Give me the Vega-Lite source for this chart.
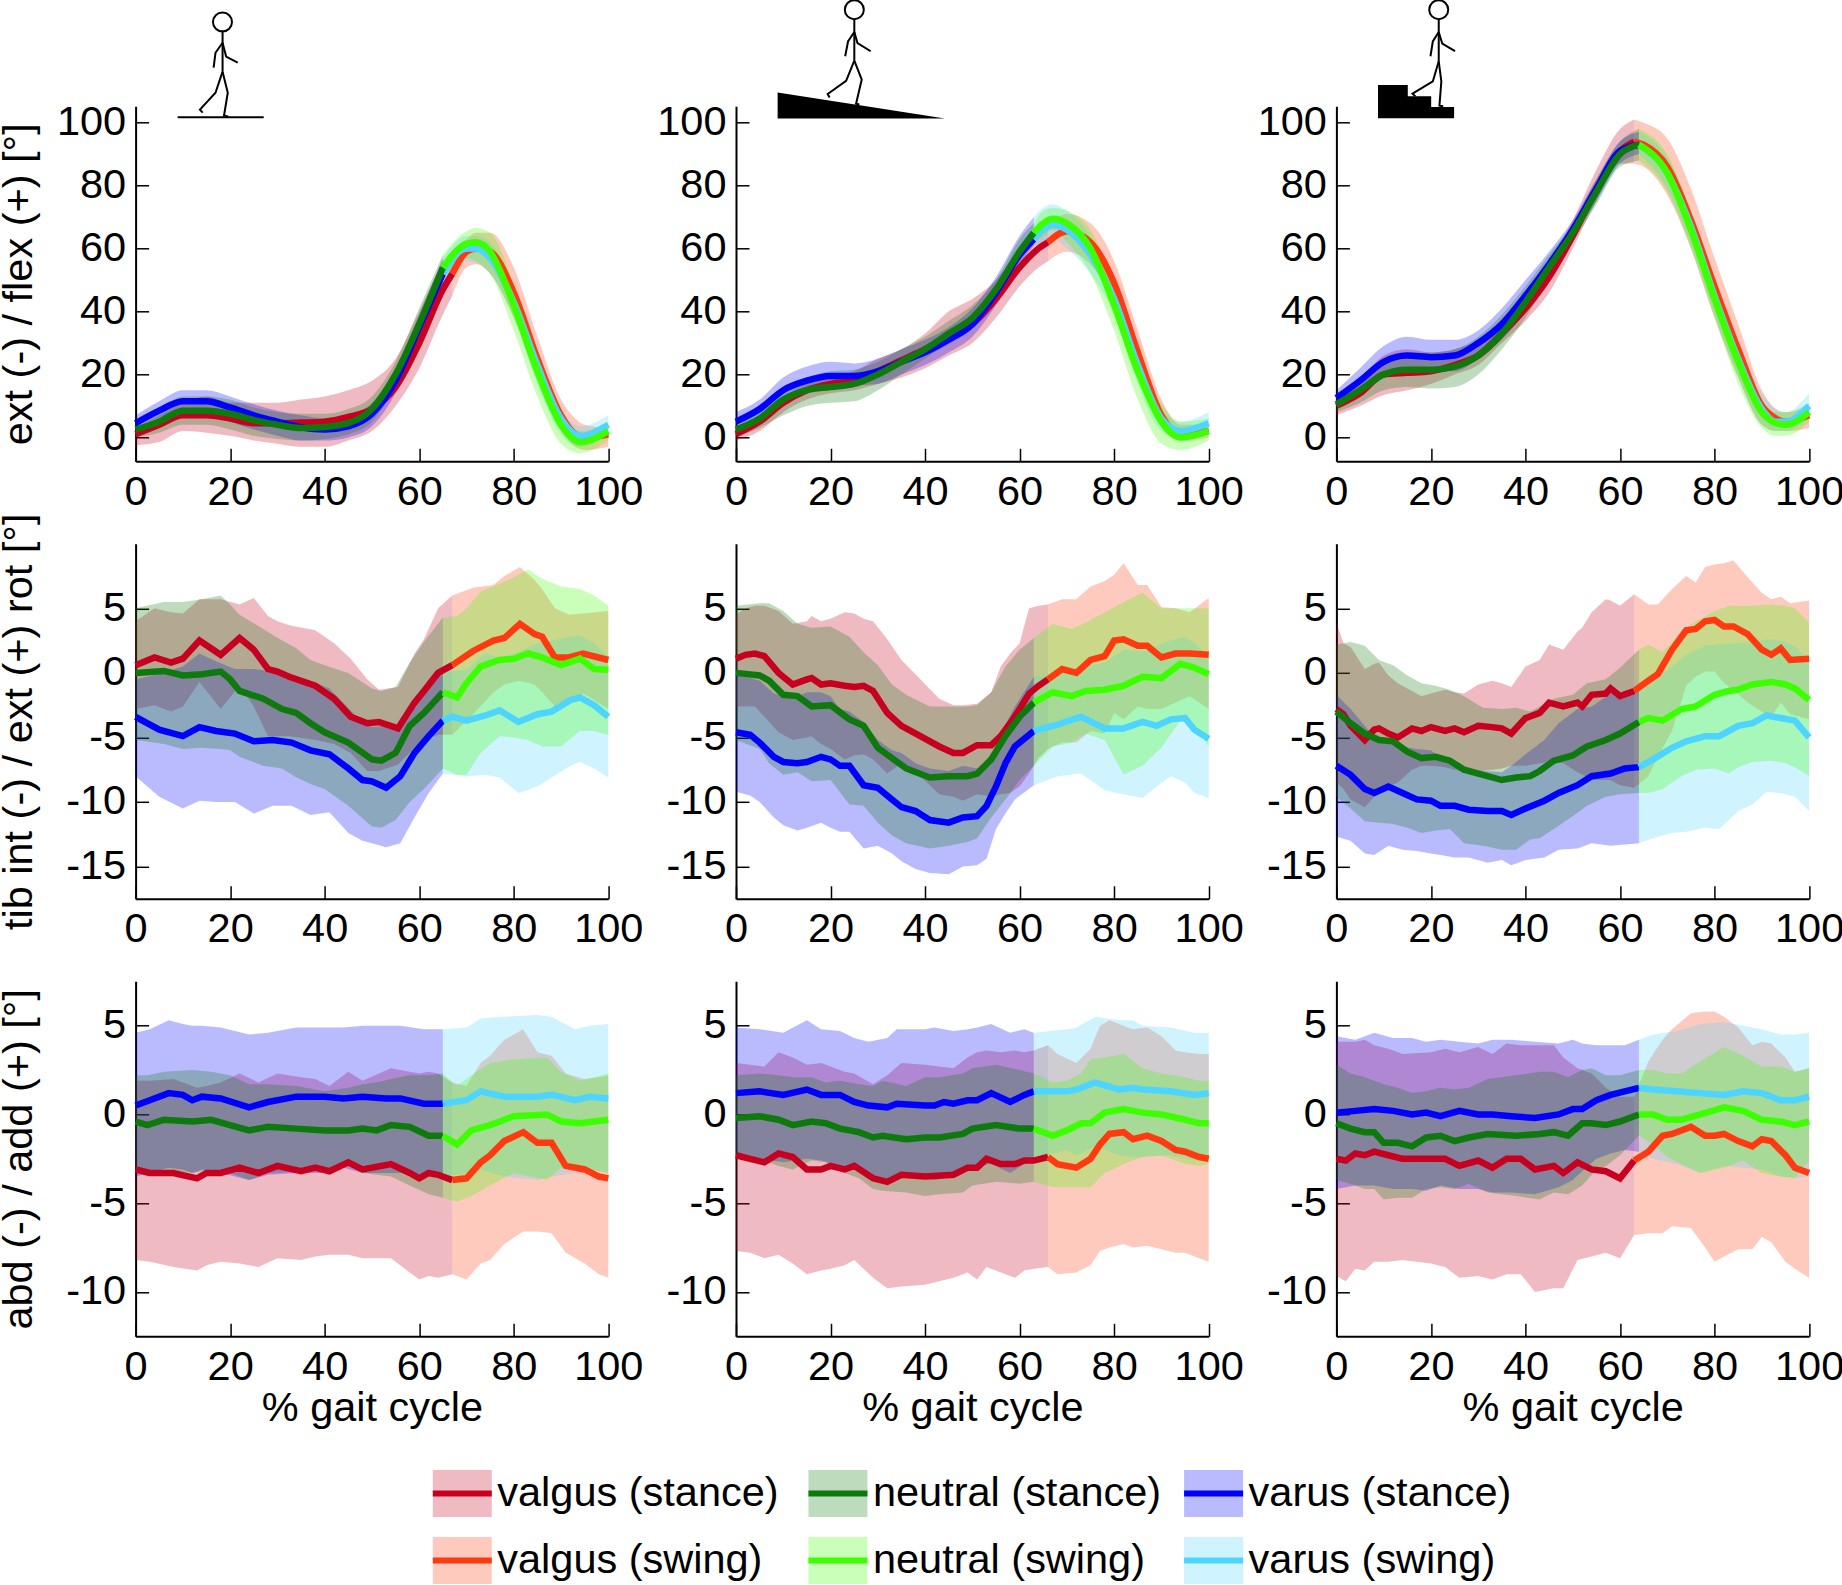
{"$schema":"https://vega.github.io/schema/vega-lite/v6.json","background":"white","padding":{"left":-2.4,"top":-4.7,"right":0,"bottom":0},"columns":3,"bounds":"flush","spacing":{"row":82.5,"column":127.4},"config":{"font":"Liberation Sans","view":{"stroke":null},"axis":{"grid":false,"labelFont":"Liberation Sans","titleFont":"Liberation Sans","labelFontSize":41.5,"titleFontSize":41.5,"titleFontWeight":"normal","labelColor":"#000","titleColor":"#000","domainColor":"#000","domainWidth":2,"tickColor":"#000","tickWidth":1.5,"tickSize":-13,"labelPadding":23,"labelOverlap":false,"labelFlush":false,"labelBound":false}},"datasets":{"curves":[
{"p":1,"s":"VgS","x":0,"y":1,"lo":-2.5,"hi":3},{"p":1,"s":"VgS","x":5,"y":4,"lo":-1.5,"hi":7},{"p":1,"s":"VgS","x":10,"y":7,"lo":2,"hi":11},{"p":1,"s":"VgS","x":15,"y":7,"lo":1.5,"hi":13},{"p":1,"s":"VgS","x":20,"y":6,"lo":0.5,"hi":11},{"p":1,"s":"VgS","x":25,"y":4.5,"lo":-1,"hi":11},{"p":1,"s":"VgS","x":30,"y":4.5,"lo":-2,"hi":11},{"p":1,"s":"VgS","x":35,"y":4.7,"lo":-3,"hi":12},{"p":1,"s":"VgS","x":40,"y":5,"lo":-3,"hi":13},{"p":1,"s":"VgS","x":45,"y":6.5,"lo":-1,"hi":15},{"p":1,"s":"VgS","x":50,"y":9,"lo":2,"hi":18},{"p":1,"s":"VgS","x":55,"y":16,"lo":10,"hi":25},{"p":1,"s":"VgS","x":60,"y":30,"lo":22,"hi":40},{"p":1,"s":"VgS","x":65,"y":47,"lo":39,"hi":55},{"p":1,"s":"VgS","x":67,"y":52,"lo":45,"hi":58},
{"p":1,"s":"VgW","x":67,"y":52,"lo":45,"hi":58},{"p":1,"s":"VgW","x":70,"y":59,"lo":54,"hi":63},{"p":1,"s":"VgW","x":72,"y":60,"lo":55,"hi":65},{"p":1,"s":"VgW","x":75,"y":59,"lo":52,"hi":65},{"p":1,"s":"VgW","x":80,"y":46,"lo":38,"hi":54},{"p":1,"s":"VgW","x":85,"y":25,"lo":18,"hi":32},{"p":1,"s":"VgW","x":90,"y":7,"lo":2,"hi":12},{"p":1,"s":"VgW","x":93,"y":1,"lo":-3,"hi":6},{"p":1,"s":"VgW","x":95,"y":0,"lo":-4,"hi":4},{"p":1,"s":"VgW","x":100,"y":1,"lo":-3,"hi":3},
{"p":1,"s":"VrS","x":0,"y":4.5,"lo":2,"hi":7},{"p":1,"s":"VrS","x":5,"y":8.5,"lo":5,"hi":11.5},{"p":1,"s":"VrS","x":10,"y":11.5,"lo":8,"hi":15},{"p":1,"s":"VrS","x":15,"y":11.5,"lo":8,"hi":15},{"p":1,"s":"VrS","x":20,"y":9.5,"lo":5,"hi":13},{"p":1,"s":"VrS","x":25,"y":7,"lo":2.5,"hi":10.5},{"p":1,"s":"VrS","x":30,"y":5,"lo":0.5,"hi":8.5},{"p":1,"s":"VrS","x":35,"y":3.2,"lo":-1,"hi":7},{"p":1,"s":"VrS","x":40,"y":2.5,"lo":-1,"hi":6},{"p":1,"s":"VrS","x":45,"y":3.5,"lo":0,"hi":7},{"p":1,"s":"VrS","x":50,"y":7.5,"lo":3.5,"hi":11},{"p":1,"s":"VrS","x":55,"y":18,"lo":14,"hi":22},{"p":1,"s":"VrS","x":60,"y":35,"lo":31,"hi":39},{"p":1,"s":"VrS","x":65,"y":52,"lo":48,"hi":57},
{"p":1,"s":"VrW","x":65,"y":52,"lo":48,"hi":57},{"p":1,"s":"VrW","x":70,"y":60,"lo":56,"hi":64},{"p":1,"s":"VrW","x":72,"y":60,"lo":55.5,"hi":64},{"p":1,"s":"VrW","x":75,"y":57,"lo":52,"hi":62},{"p":1,"s":"VrW","x":80,"y":43,"lo":38,"hi":47},{"p":1,"s":"VrW","x":85,"y":23,"lo":17,"hi":27},{"p":1,"s":"VrW","x":90,"y":6,"lo":1,"hi":9},{"p":1,"s":"VrW","x":94,"y":0.5,"lo":-3,"hi":3.5},{"p":1,"s":"VrW","x":100,"y":4,"lo":1.5,"hi":7},
{"p":1,"s":"NtS","x":0,"y":2.5,"lo":0,"hi":5.5},{"p":1,"s":"NtS","x":5,"y":5,"lo":1.5,"hi":9},{"p":1,"s":"NtS","x":10,"y":8.5,"lo":4,"hi":13},{"p":1,"s":"NtS","x":15,"y":8.5,"lo":4,"hi":13},{"p":1,"s":"NtS","x":20,"y":7.5,"lo":2.5,"hi":12},{"p":1,"s":"NtS","x":25,"y":5.5,"lo":0.5,"hi":9.5},{"p":1,"s":"NtS","x":30,"y":4,"lo":-0.5,"hi":8},{"p":1,"s":"NtS","x":35,"y":3,"lo":-1,"hi":7.5},{"p":1,"s":"NtS","x":40,"y":3.3,"lo":-0.5,"hi":7.5},{"p":1,"s":"NtS","x":45,"y":4.5,"lo":1,"hi":9},{"p":1,"s":"NtS","x":50,"y":9,"lo":5,"hi":13},{"p":1,"s":"NtS","x":55,"y":20,"lo":16,"hi":24},{"p":1,"s":"NtS","x":60,"y":36,"lo":32,"hi":41},{"p":1,"s":"NtS","x":65,"y":54,"lo":50,"hi":58},
{"p":1,"s":"NtW","x":65,"y":54,"lo":50,"hi":58},{"p":1,"s":"NtW","x":70,"y":61.5,"lo":57,"hi":65.5},{"p":1,"s":"NtW","x":72,"y":62,"lo":56,"hi":66.5},{"p":1,"s":"NtW","x":75,"y":59,"lo":52,"hi":65},{"p":1,"s":"NtW","x":80,"y":42,"lo":34,"hi":49},{"p":1,"s":"NtW","x":85,"y":21,"lo":13,"hi":27},{"p":1,"s":"NtW","x":90,"y":4,"lo":-2,"hi":9},{"p":1,"s":"NtW","x":94,"y":-1.5,"lo":-5,"hi":2},{"p":1,"s":"NtW","x":100,"y":2,"lo":-1,"hi":5},
{"p":2,"s":"VgS","x":0,"y":1,"lo":-1,"hi":3},{"p":2,"s":"VgS","x":5,"y":5,"lo":2,"hi":7},{"p":2,"s":"VgS","x":10,"y":11,"lo":8,"hi":13},{"p":2,"s":"VgS","x":15,"y":15,"lo":12,"hi":17},{"p":2,"s":"VgS","x":20,"y":17,"lo":14,"hi":19},{"p":2,"s":"VgS","x":25,"y":18,"lo":15,"hi":21},{"p":2,"s":"VgS","x":30,"y":21,"lo":17,"hi":25},{"p":2,"s":"VgS","x":35,"y":24.5,"lo":19,"hi":28},{"p":2,"s":"VgS","x":40,"y":28,"lo":22,"hi":33},{"p":2,"s":"VgS","x":45,"y":32,"lo":26,"hi":40},{"p":2,"s":"VgS","x":50,"y":36,"lo":30,"hi":44},{"p":2,"s":"VgS","x":55,"y":44,"lo":38,"hi":50},{"p":2,"s":"VgS","x":60,"y":54,"lo":48,"hi":60},{"p":2,"s":"VgS","x":64,"y":60,"lo":54,"hi":66},{"p":2,"s":"VgS","x":66,"y":62,"lo":56,"hi":67},
{"p":2,"s":"VgW","x":66,"y":62,"lo":56,"hi":67},{"p":2,"s":"VgW","x":70,"y":65.5,"lo":59,"hi":71},{"p":2,"s":"VgW","x":75,"y":62,"lo":55,"hi":68},{"p":2,"s":"VgW","x":80,"y":49,"lo":42,"hi":56},{"p":2,"s":"VgW","x":85,"y":27,"lo":20,"hi":34},{"p":2,"s":"VgW","x":90,"y":7,"lo":3,"hi":12},{"p":2,"s":"VgW","x":94,"y":1,"lo":-1,"hi":4},{"p":2,"s":"VgW","x":100,"y":2,"lo":0,"hi":4},
{"p":2,"s":"VrS","x":0,"y":5,"lo":2.5,"hi":8},{"p":2,"s":"VrS","x":5,"y":9,"lo":6,"hi":12},{"p":2,"s":"VrS","x":10,"y":15,"lo":11,"hi":19},{"p":2,"s":"VrS","x":15,"y":18,"lo":15,"hi":22.5},{"p":2,"s":"VrS","x":20,"y":19.5,"lo":16,"hi":24},{"p":2,"s":"VrS","x":25,"y":19.5,"lo":16.5,"hi":23.5},{"p":2,"s":"VrS","x":30,"y":21,"lo":17,"hi":25},{"p":2,"s":"VrS","x":35,"y":24,"lo":20,"hi":28},{"p":2,"s":"VrS","x":40,"y":27,"lo":23,"hi":31},{"p":2,"s":"VrS","x":45,"y":31,"lo":27,"hi":35},{"p":2,"s":"VrS","x":50,"y":36,"lo":32,"hi":41},{"p":2,"s":"VrS","x":55,"y":46,"lo":42,"hi":51},{"p":2,"s":"VrS","x":60,"y":58,"lo":55,"hi":64},{"p":2,"s":"VrS","x":63,"y":63,"lo":61,"hi":70},
{"p":2,"s":"VrW","x":63,"y":63,"lo":61,"hi":70},{"p":2,"s":"VrW","x":65,"y":66,"lo":62,"hi":73},{"p":2,"s":"VrW","x":67,"y":67.5,"lo":63,"hi":74},{"p":2,"s":"VrW","x":70,"y":66,"lo":60,"hi":72},{"p":2,"s":"VrW","x":75,"y":58,"lo":52,"hi":64},{"p":2,"s":"VrW","x":80,"y":44,"lo":39,"hi":49},{"p":2,"s":"VrW","x":85,"y":23,"lo":17,"hi":28},{"p":2,"s":"VrW","x":90,"y":6,"lo":2,"hi":9},{"p":2,"s":"VrW","x":94,"y":2,"lo":0,"hi":5},{"p":2,"s":"VrW","x":100,"y":4.5,"lo":2,"hi":8},
{"p":2,"s":"NtS","x":0,"y":2.5,"lo":0,"hi":5},{"p":2,"s":"NtS","x":5,"y":6,"lo":3,"hi":9},{"p":2,"s":"NtS","x":10,"y":12,"lo":7,"hi":16},{"p":2,"s":"NtS","x":15,"y":15,"lo":10,"hi":19},{"p":2,"s":"NtS","x":20,"y":16,"lo":11,"hi":21},{"p":2,"s":"NtS","x":25,"y":17,"lo":11.5,"hi":21.5},{"p":2,"s":"NtS","x":30,"y":20,"lo":15,"hi":24},{"p":2,"s":"NtS","x":35,"y":24,"lo":20,"hi":28},{"p":2,"s":"NtS","x":40,"y":28,"lo":25,"hi":32},{"p":2,"s":"NtS","x":45,"y":33,"lo":30,"hi":37},{"p":2,"s":"NtS","x":50,"y":38,"lo":35,"hi":42},{"p":2,"s":"NtS","x":55,"y":47,"lo":44,"hi":50},{"p":2,"s":"NtS","x":60,"y":59,"lo":56,"hi":63},{"p":2,"s":"NtS","x":63,"y":65,"lo":62,"hi":68},
{"p":2,"s":"NtW","x":63,"y":65,"lo":62,"hi":68},{"p":2,"s":"NtW","x":65,"y":68,"lo":64,"hi":72},{"p":2,"s":"NtW","x":67,"y":69.5,"lo":66,"hi":73},{"p":2,"s":"NtW","x":70,"y":68,"lo":62,"hi":72},{"p":2,"s":"NtW","x":75,"y":60,"lo":52,"hi":66},{"p":2,"s":"NtW","x":80,"y":42,"lo":34,"hi":49},{"p":2,"s":"NtW","x":85,"y":21,"lo":12,"hi":29},{"p":2,"s":"NtW","x":90,"y":5,"lo":-2,"hi":11},{"p":2,"s":"NtW","x":94,"y":0,"lo":-4,"hi":5},{"p":2,"s":"NtW","x":100,"y":2,"lo":-1,"hi":6},
{"p":3,"s":"VgS","x":0,"y":10,"lo":7,"hi":13},{"p":3,"s":"VgS","x":5,"y":14,"lo":10,"hi":18},{"p":3,"s":"VgS","x":10,"y":20,"lo":13.5,"hi":26},{"p":3,"s":"VgS","x":15,"y":20.5,"lo":15,"hi":28},{"p":3,"s":"VgS","x":20,"y":21,"lo":17,"hi":27},{"p":3,"s":"VgS","x":25,"y":23,"lo":20,"hi":28},{"p":3,"s":"VgS","x":30,"y":26,"lo":23,"hi":31},{"p":3,"s":"VgS","x":35,"y":33,"lo":30,"hi":37},{"p":3,"s":"VgS","x":40,"y":41,"lo":37,"hi":46},{"p":3,"s":"VgS","x":45,"y":51,"lo":46,"hi":56},{"p":3,"s":"VgS","x":50,"y":64,"lo":60,"hi":69},{"p":3,"s":"VgS","x":55,"y":79,"lo":75,"hi":85},{"p":3,"s":"VgS","x":60,"y":91,"lo":87,"hi":98},{"p":3,"s":"VgS","x":63,"y":94,"lo":87,"hi":101},
{"p":3,"s":"VgW","x":63,"y":94,"lo":87,"hi":101},{"p":3,"s":"VgW","x":65,"y":93,"lo":86,"hi":100},{"p":3,"s":"VgW","x":70,"y":86,"lo":77,"hi":95},{"p":3,"s":"VgW","x":75,"y":69,"lo":60,"hi":79},{"p":3,"s":"VgW","x":80,"y":48,"lo":38,"hi":57},{"p":3,"s":"VgW","x":85,"y":28,"lo":19,"hi":36},{"p":3,"s":"VgW","x":90,"y":10,"lo":4,"hi":15},{"p":3,"s":"VgW","x":93,"y":6,"lo":2,"hi":9},{"p":3,"s":"VgW","x":95,"y":5,"lo":2,"hi":8},{"p":3,"s":"VgW","x":100,"y":7,"lo":3,"hi":10},
{"p":3,"s":"VrS","x":0,"y":12.5,"lo":10,"hi":15},{"p":3,"s":"VrS","x":5,"y":18,"lo":14,"hi":22},{"p":3,"s":"VrS","x":10,"y":24,"lo":19,"hi":29},{"p":3,"s":"VrS","x":15,"y":26,"lo":21,"hi":32},{"p":3,"s":"VrS","x":20,"y":25.5,"lo":21,"hi":31},{"p":3,"s":"VrS","x":25,"y":26,"lo":21,"hi":31},{"p":3,"s":"VrS","x":30,"y":30,"lo":25,"hi":34},{"p":3,"s":"VrS","x":35,"y":36,"lo":31,"hi":41},{"p":3,"s":"VrS","x":40,"y":45,"lo":40,"hi":50},{"p":3,"s":"VrS","x":45,"y":55,"lo":51,"hi":59},{"p":3,"s":"VrS","x":50,"y":66,"lo":63,"hi":69},{"p":3,"s":"VrS","x":55,"y":79,"lo":75,"hi":82},{"p":3,"s":"VrS","x":60,"y":91,"lo":87,"hi":94},{"p":3,"s":"VrS","x":64,"y":93,"lo":90,"hi":97},
{"p":3,"s":"VrW","x":64,"y":93,"lo":90,"hi":97},{"p":3,"s":"VrW","x":70,"y":84,"lo":79,"hi":89},{"p":3,"s":"VrW","x":75,"y":67,"lo":61,"hi":72},{"p":3,"s":"VrW","x":80,"y":45,"lo":39,"hi":50},{"p":3,"s":"VrW","x":85,"y":25,"lo":19,"hi":30},{"p":3,"s":"VrW","x":90,"y":9,"lo":4,"hi":14},{"p":3,"s":"VrW","x":93,"y":5,"lo":2,"hi":9},{"p":3,"s":"VrW","x":95,"y":5,"lo":2,"hi":8},{"p":3,"s":"VrW","x":100,"y":10,"lo":6,"hi":14},
{"p":3,"s":"NtS","x":0,"y":10.5,"lo":8,"hi":13},{"p":3,"s":"NtS","x":5,"y":15,"lo":11,"hi":18},{"p":3,"s":"NtS","x":10,"y":20,"lo":15,"hi":25},{"p":3,"s":"NtS","x":15,"y":21.5,"lo":16,"hi":27},{"p":3,"s":"NtS","x":20,"y":21.5,"lo":15.5,"hi":27},{"p":3,"s":"NtS","x":25,"y":22.5,"lo":16,"hi":28},{"p":3,"s":"NtS","x":30,"y":26,"lo":20,"hi":32},{"p":3,"s":"NtS","x":35,"y":33,"lo":28,"hi":39},{"p":3,"s":"NtS","x":40,"y":43,"lo":38,"hi":48},{"p":3,"s":"NtS","x":45,"y":54,"lo":50,"hi":58},{"p":3,"s":"NtS","x":50,"y":65,"lo":62,"hi":68},{"p":3,"s":"NtS","x":55,"y":78,"lo":74,"hi":82},{"p":3,"s":"NtS","x":60,"y":90,"lo":86,"hi":94},{"p":3,"s":"NtS","x":64,"y":93,"lo":88,"hi":98},
{"p":3,"s":"NtW","x":64,"y":93,"lo":88,"hi":98},{"p":3,"s":"NtW","x":70,"y":84,"lo":78,"hi":90},{"p":3,"s":"NtW","x":75,"y":66,"lo":60,"hi":72},{"p":3,"s":"NtW","x":80,"y":44,"lo":38,"hi":50},{"p":3,"s":"NtW","x":85,"y":24,"lo":17,"hi":30},{"p":3,"s":"NtW","x":90,"y":8,"lo":3,"hi":12},{"p":3,"s":"NtW","x":93,"y":4.5,"lo":0.5,"hi":8},{"p":3,"s":"NtW","x":95,"y":4,"lo":0.5,"hi":8},{"p":3,"s":"NtW","x":100,"y":8,"lo":5,"hi":11},
{"p":4,"s":"VgS","x":0,"y":0.6,"lo":-2.8,"hi":4},{"p":4,"s":"VgS","x":4,"y":1.2,"lo":-2.5,"hi":5},{"p":4,"s":"VgS","x":7.5,"y":0.8,"lo":-3,"hi":4.7},{"p":4,"s":"VgS","x":10,"y":1.1,"lo":-2.6,"hi":4.6},{"p":4,"s":"VgS","x":13.5,"y":2.5,"lo":-0.7,"hi":5.7},{"p":4,"s":"VgS","x":18,"y":1.4,"lo":-2.8,"hi":5.7},{"p":4,"s":"VgS","x":22,"y":2.7,"lo":-1,"hi":5.3},{"p":4,"s":"VgS","x":25,"y":1.8,"lo":-2.6,"hi":5.8},{"p":4,"s":"VgS","x":28,"y":0.3,"lo":-4.9,"hi":4.4},{"p":4,"s":"VgS","x":30,"y":0.1,"lo":-4.9,"hi":4},{"p":4,"s":"VgS","x":32.5,"y":-0.3,"lo":-4.9,"hi":3.7},{"p":4,"s":"VgS","x":38,"y":-1,"lo":-5.2,"hi":3.3},{"p":4,"s":"VgS","x":42,"y":-2,"lo":-5.5,"hi":2.3},{"p":4,"s":"VgS","x":45.5,"y":-3.4,"lo":-6.2,"hi":1.1},{"p":4,"s":"VgS","x":49,"y":-3.9,"lo":-7.6,"hi":-0.5},{"p":4,"s":"VgS","x":51.5,"y":-3.8,"lo":-7.6,"hi":-1.3},{"p":4,"s":"VgS","x":55.5,"y":-4.3,"lo":-7.1,"hi":-1.1},{"p":4,"s":"VgS","x":59,"y":-2.3,"lo":-5.8,"hi":1.5},{"p":4,"s":"VgS","x":61,"y":-1.4,"lo":-5.2,"hi":2.6},{"p":4,"s":"VgS","x":64,"y":0,"lo":-4.8,"hi":5},{"p":4,"s":"VgS","x":67,"y":0.6,"lo":-4.8,"hi":6},
{"p":4,"s":"VgW","x":67,"y":0.6,"lo":-4.8,"hi":6},{"p":4,"s":"VgW","x":71.4,"y":1.7,"lo":-3.2,"hi":6.6},{"p":4,"s":"VgW","x":75.7,"y":2.5,"lo":-1.5,"hi":6.8},{"p":4,"s":"VgW","x":78,"y":2.7,"lo":-0.9,"hi":7.5},{"p":4,"s":"VgW","x":81.3,"y":3.8,"lo":-0.6,"hi":8.2},{"p":4,"s":"VgW","x":84.4,"y":3,"lo":-0.9,"hi":7.2},{"p":4,"s":"VgW","x":86,"y":2.8,"lo":-1.5,"hi":6.5},{"p":4,"s":"VgW","x":88.7,"y":1.2,"lo":-2.6,"hi":5},{"p":4,"s":"VgW","x":91.7,"y":1.2,"lo":-2.5,"hi":4.5},{"p":4,"s":"VgW","x":94.7,"y":1.5,"lo":-1.6,"hi":4.6},{"p":4,"s":"VgW","x":100,"y":1,"lo":-2.8,"hi":4.8},
{"p":4,"s":"VrS","x":0,"y":-3.4,"lo":-8,"hi":-0.5},{"p":4,"s":"VrS","x":5,"y":-4.4,"lo":-9.6,"hi":-0.1},{"p":4,"s":"VrS","x":10,"y":-4.9,"lo":-10.5,"hi":0.5},{"p":4,"s":"VrS","x":13.5,"y":-4.2,"lo":-9.9,"hi":1.5},{"p":4,"s":"VrS","x":17,"y":-4.5,"lo":-10,"hi":0.9},{"p":4,"s":"VrS","x":21,"y":-4.7,"lo":-10,"hi":0.3},{"p":4,"s":"VrS","x":25,"y":-5.3,"lo":-10.9,"hi":0.3},{"p":4,"s":"VrS","x":29,"y":-5.2,"lo":-10.3,"hi":0.1},{"p":4,"s":"VrS","x":33,"y":-5.4,"lo":-10.3,"hi":-0.2},{"p":4,"s":"VrS","x":37,"y":-6,"lo":-11,"hi":-0.6},{"p":4,"s":"VrS","x":41,"y":-6.3,"lo":-10.8,"hi":-1.2},{"p":4,"s":"VrS","x":45,"y":-7.4,"lo":-12.4,"hi":-2.7},{"p":4,"s":"VrS","x":48,"y":-8.3,"lo":-13,"hi":-3.9},{"p":4,"s":"VrS","x":50,"y":-8.4,"lo":-13.2,"hi":-4.2},{"p":4,"s":"VrS","x":53,"y":-8.9,"lo":-13.5,"hi":-4.1},{"p":4,"s":"VrS","x":56,"y":-8,"lo":-13.2,"hi":-4.3},{"p":4,"s":"VrS","x":59,"y":-6.2,"lo":-11.2,"hi":-2.3},{"p":4,"s":"VrS","x":62,"y":-4.9,"lo":-9.3,"hi":-0.8},{"p":4,"s":"VrS","x":65,"y":-3.7,"lo":-7.8,"hi":0.3},
{"p":4,"s":"VrW","x":65,"y":-3.7,"lo":-7.8,"hi":0.3},{"p":4,"s":"VrW","x":67,"y":-3.4,"lo":-7.9,"hi":0.2},{"p":4,"s":"VrW","x":70,"y":-3.7,"lo":-8,"hi":0.2},{"p":4,"s":"VrW","x":74,"y":-3.3,"lo":-7.9,"hi":1.5},{"p":4,"s":"VrW","x":77,"y":-2.9,"lo":-8.1,"hi":1.2},{"p":4,"s":"VrW","x":81,"y":-3.8,"lo":-9.3,"hi":1.6},{"p":4,"s":"VrW","x":85,"y":-3.2,"lo":-8.8,"hi":2.3},{"p":4,"s":"VrW","x":88,"y":-3,"lo":-8.1,"hi":2.5},{"p":4,"s":"VrW","x":92,"y":-2.1,"lo":-7.2,"hi":2.8},{"p":4,"s":"VrW","x":94,"y":-1.9,"lo":-6.9,"hi":2.9},{"p":4,"s":"VrW","x":97,"y":-2.5,"lo":-7.4,"hi":2.3},{"p":4,"s":"VrW","x":100,"y":-3.4,"lo":-8.1,"hi":1.3},
{"p":4,"s":"NtS","x":0,"y":0,"lo":-5.2,"hi":5},{"p":4,"s":"NtS","x":6,"y":0.15,"lo":-5.5,"hi":5.5},{"p":4,"s":"NtS","x":10,"y":-0.2,"lo":-5.9,"hi":5.5},{"p":4,"s":"NtS","x":14,"y":-0.1,"lo":-5.8,"hi":5.7},{"p":4,"s":"NtS","x":18,"y":0.1,"lo":-5.9,"hi":6},{"p":4,"s":"NtS","x":20,"y":-0.5,"lo":-6,"hi":5.3},{"p":4,"s":"NtS","x":22,"y":-1.4,"lo":-6.5,"hi":4.5},{"p":4,"s":"NtS","x":27,"y":-2,"lo":-7.2,"hi":3.4},{"p":4,"s":"NtS","x":31,"y":-2.8,"lo":-7.4,"hi":2.5},{"p":4,"s":"NtS","x":34,"y":-3.1,"lo":-8.1,"hi":1.9},{"p":4,"s":"NtS","x":37,"y":-3.9,"lo":-8.6,"hi":1},{"p":4,"s":"NtS","x":40,"y":-4.6,"lo":-9,"hi":0.6},{"p":4,"s":"NtS","x":45,"y":-5.4,"lo":-10.3,"hi":0},{"p":4,"s":"NtS","x":50,"y":-6.7,"lo":-11.9,"hi":-1.2},{"p":4,"s":"NtS","x":52,"y":-6.8,"lo":-12,"hi":-1.4},{"p":4,"s":"NtS","x":55,"y":-6.2,"lo":-11.4,"hi":-1.1},{"p":4,"s":"NtS","x":58,"y":-4.1,"lo":-10,"hi":0.8},{"p":4,"s":"NtS","x":61,"y":-3.1,"lo":-9,"hi":2.4},{"p":4,"s":"NtS","x":65,"y":-1.5,"lo":-7.4,"hi":4.3},
{"p":4,"s":"NtW","x":65,"y":-1.5,"lo":-7.4,"hi":4.3},{"p":4,"s":"NtW","x":68,"y":-1.9,"lo":-7.9,"hi":4.4},{"p":4,"s":"NtW","x":70,"y":-0.8,"lo":-7.9,"hi":5},{"p":4,"s":"NtW","x":73,"y":0.5,"lo":-6.2,"hi":6.3},{"p":4,"s":"NtW","x":77,"y":1,"lo":-4.9,"hi":6.9},{"p":4,"s":"NtW","x":80,"y":1.1,"lo":-5,"hi":7.4},{"p":4,"s":"NtW","x":83,"y":1.5,"lo":-5.2,"hi":8},{"p":4,"s":"NtW","x":86,"y":1.2,"lo":-5.7,"hi":7.3},{"p":4,"s":"NtW","x":90,"y":0.6,"lo":-5.7,"hi":6.7},{"p":4,"s":"NtW","x":94,"y":1.1,"lo":-4.5,"hi":6.5},{"p":4,"s":"NtW","x":97,"y":0.3,"lo":-4.5,"hi":6},{"p":4,"s":"NtW","x":100,"y":0.25,"lo":-4.8,"hi":5.2},
{"p":5,"s":"VgS","x":0,"y":1.1,"lo":-2.6,"hi":4.5},{"p":5,"s":"VgS","x":2,"y":1.4,"lo":-2.6,"hi":5},{"p":5,"s":"VgS","x":4,"y":1.5,"lo":-2.6,"hi":5.2},{"p":5,"s":"VgS","x":6,"y":1.3,"lo":-3.4,"hi":5.2},{"p":5,"s":"VgS","x":9,"y":0,"lo":-4.6,"hi":4.8},{"p":5,"s":"VgS","x":12,"y":-0.9,"lo":-5.2,"hi":3.8},{"p":5,"s":"VgS","x":15,"y":-0.5,"lo":-5,"hi":4},{"p":5,"s":"VgS","x":16,"y":-0.4,"lo":-4.9,"hi":4.4},{"p":5,"s":"VgS","x":18,"y":-0.9,"lo":-5.5,"hi":4},{"p":5,"s":"VgS","x":20,"y":-0.8,"lo":-5.9,"hi":4.2},{"p":5,"s":"VgS","x":23,"y":-1,"lo":-6.7,"hi":4.7},{"p":5,"s":"VgS","x":25,"y":-1.1,"lo":-6.4,"hi":4.6},{"p":5,"s":"VgS","x":27,"y":-1,"lo":-6.3,"hi":4.2},{"p":5,"s":"VgS","x":29,"y":-1.4,"lo":-6.7,"hi":4},{"p":5,"s":"VgS","x":32,"y":-3.1,"lo":-7.8,"hi":2.6},{"p":5,"s":"VgS","x":35,"y":-4.1,"lo":-7,"hi":1},{"p":5,"s":"VgS","x":39,"y":-4.9,"lo":-8,"hi":-0.5},{"p":5,"s":"VgS","x":43,"y":-5.7,"lo":-9.4,"hi":-2},{"p":5,"s":"VgS","x":46,"y":-6.2,"lo":-9.6,"hi":-2.5},{"p":5,"s":"VgS","x":48,"y":-6.2,"lo":-9.9,"hi":-2.5},{"p":5,"s":"VgS","x":51,"y":-5.6,"lo":-9.4,"hi":-2.4},{"p":5,"s":"VgS","x":54,"y":-5.6,"lo":-9.6,"hi":-1.5},{"p":5,"s":"VgS","x":56,"y":-4.9,"lo":-9.4,"hi":0.5},{"p":5,"s":"VgS","x":58,"y":-3.9,"lo":-9.3,"hi":1.5},{"p":5,"s":"VgS","x":60,"y":-2.8,"lo":-8.8,"hi":2.3},{"p":5,"s":"VgS","x":62,"y":-1.6,"lo":-7.8,"hi":5},{"p":5,"s":"VgS","x":64,"y":-1,"lo":-6.6,"hi":5.2},{"p":5,"s":"VgS","x":66,"y":-0.5,"lo":-5.9,"hi":5.3},
{"p":5,"s":"VgW","x":66,"y":-0.5,"lo":-5.9,"hi":5.3},{"p":5,"s":"VgW","x":69,"y":0.3,"lo":-5.4,"hi":5.7},{"p":5,"s":"VgW","x":72,"y":0,"lo":-5.4,"hi":5.7},{"p":5,"s":"VgW","x":75,"y":1,"lo":-4.5,"hi":6.7},{"p":5,"s":"VgW","x":78,"y":1.3,"lo":-4.7,"hi":7.1},{"p":5,"s":"VgW","x":80,"y":2.5,"lo":-3.1,"hi":7.6},{"p":5,"s":"VgW","x":82,"y":2.6,"lo":-3.6,"hi":8.5},{"p":5,"s":"VgW","x":85,"y":2.1,"lo":-2.6,"hi":6.8},{"p":5,"s":"VgW","x":87,"y":2.1,"lo":-2.8,"hi":6.8},{"p":5,"s":"VgW","x":90,"y":1.2,"lo":-2.8,"hi":5.1},{"p":5,"s":"VgW","x":93,"y":1.5,"lo":-2.3,"hi":5},{"p":5,"s":"VgW","x":96,"y":1.5,"lo":-1.8,"hi":4.7},{"p":5,"s":"VgW","x":100,"y":1.4,"lo":-2.8,"hi":5.8},
{"p":5,"s":"VrS","x":0,"y":-4.6,"lo":-9.2,"hi":-0.2},{"p":5,"s":"VrS","x":3,"y":-4.8,"lo":-9.5,"hi":-0.4},{"p":5,"s":"VrS","x":5,"y":-5.4,"lo":-10,"hi":-0.6},{"p":5,"s":"VrS","x":8,"y":-6.5,"lo":-11.2,"hi":-1.6},{"p":5,"s":"VrS","x":10,"y":-6.9,"lo":-11.8,"hi":-1.8},{"p":5,"s":"VrS","x":13,"y":-7,"lo":-12.2,"hi":-1.8},{"p":5,"s":"VrS","x":15,"y":-6.9,"lo":-12,"hi":-1.5},{"p":5,"s":"VrS","x":18,"y":-6.5,"lo":-11.6,"hi":-1.5},{"p":5,"s":"VrS","x":20,"y":-6.7,"lo":-12,"hi":-1.8},{"p":5,"s":"VrS","x":22,"y":-7.2,"lo":-12.3,"hi":-2.8},{"p":5,"s":"VrS","x":24,"y":-7.2,"lo":-12.3,"hi":-3},{"p":5,"s":"VrS","x":27,"y":-8.7,"lo":-13.6,"hi":-3.8},{"p":5,"s":"VrS","x":30,"y":-8.9,"lo":-13.4,"hi":-5.2},{"p":5,"s":"VrS","x":33,"y":-9.8,"lo":-14,"hi":-6},{"p":5,"s":"VrS","x":35,"y":-10.4,"lo":-14.6,"hi":-6.2},{"p":5,"s":"VrS","x":38,"y":-10.7,"lo":-15.2,"hi":-7},{"p":5,"s":"VrS","x":41,"y":-11.4,"lo":-15.5,"hi":-7.4},{"p":5,"s":"VrS","x":45,"y":-11.6,"lo":-15.6,"hi":-7.6},{"p":5,"s":"VrS","x":48,"y":-11.2,"lo":-15,"hi":-7.2},{"p":5,"s":"VrS","x":51,"y":-11.1,"lo":-14.9,"hi":-7.4},{"p":5,"s":"VrS","x":53,"y":-10.3,"lo":-14.4,"hi":-7.2},{"p":5,"s":"VrS","x":55,"y":-8.8,"lo":-12.1,"hi":-6},{"p":5,"s":"VrS","x":57,"y":-7,"lo":-10.9,"hi":-4},{"p":5,"s":"VrS","x":59,"y":-5.7,"lo":-9.8,"hi":-2.6},{"p":5,"s":"VrS","x":63,"y":-4.5,"lo":-8.7,"hi":-0.3},
{"p":5,"s":"VrW","x":63,"y":-4.5,"lo":-8.7,"hi":-0.3},{"p":5,"s":"VrW","x":68,"y":-4,"lo":-8,"hi":-0.2},{"p":5,"s":"VrW","x":73,"y":-3.4,"lo":-7.8,"hi":0.4},{"p":5,"s":"VrW","x":78,"y":-4.3,"lo":-9.1,"hi":0.8},{"p":5,"s":"VrW","x":82,"y":-4.3,"lo":-9.4,"hi":1.8},{"p":5,"s":"VrW","x":86,"y":-3.8,"lo":-9.7,"hi":1.7},{"p":5,"s":"VrW","x":89,"y":-4.1,"lo":-8.8,"hi":2.1},{"p":5,"s":"VrW","x":92,"y":-3.6,"lo":-8,"hi":2.5},{"p":5,"s":"VrW","x":95,"y":-3.5,"lo":-8.5,"hi":2.8},{"p":5,"s":"VrW","x":97,"y":-4.4,"lo":-9.3,"hi":2.3},{"p":5,"s":"VrW","x":100,"y":-5.1,"lo":-9.7,"hi":1.3},
{"p":5,"s":"NtS","x":0,"y":0,"lo":-5.2,"hi":5.2},{"p":5,"s":"NtS","x":5,"y":-0.2,"lo":-5.9,"hi":5.4},{"p":5,"s":"NtS","x":7,"y":-0.6,"lo":-7,"hi":5.4},{"p":5,"s":"NtS","x":10,"y":-1.7,"lo":-7.9,"hi":4.8},{"p":5,"s":"NtS","x":13,"y":-1.8,"lo":-7.7,"hi":3.8},{"p":5,"s":"NtS","x":16,"y":-2.6,"lo":-8.4,"hi":3.5},{"p":5,"s":"NtS","x":20,"y":-2.5,"lo":-8.3,"hi":3.6},{"p":5,"s":"NtS","x":24,"y":-3.6,"lo":-10.2,"hi":2.8},{"p":5,"s":"NtS","x":27,"y":-4.1,"lo":-10.3,"hi":1.6},{"p":5,"s":"NtS","x":30,"y":-5.8,"lo":-11.6,"hi":0.6},{"p":5,"s":"NtS","x":33,"y":-6.6,"lo":-12.6,"hi":-0.9},{"p":5,"s":"NtS","x":36,"y":-7.4,"lo":-13.2,"hi":-1.7},{"p":5,"s":"NtS","x":41,"y":-8.1,"lo":-13.6,"hi":-2.6},{"p":5,"s":"NtS","x":45,"y":-8,"lo":-13.4,"hi":-2.6},{"p":5,"s":"NtS","x":49,"y":-8,"lo":-13.1,"hi":-2.6},{"p":5,"s":"NtS","x":51,"y":-7.8,"lo":-12.8,"hi":-2.5},{"p":5,"s":"NtS","x":54,"y":-6.7,"lo":-11.2,"hi":-1.5},{"p":5,"s":"NtS","x":57,"y":-4.9,"lo":-9.8,"hi":0.5},{"p":5,"s":"NtS","x":60,"y":-3.4,"lo":-8.3,"hi":1.8},{"p":5,"s":"NtS","x":63,"y":-2.3,"lo":-7.2,"hi":2.7},
{"p":5,"s":"NtW","x":63,"y":-2.3,"lo":-7.2,"hi":2.7},{"p":5,"s":"NtW","x":67,"y":-1.5,"lo":-5.7,"hi":3.8},{"p":5,"s":"NtW","x":71,"y":-1.8,"lo":-5.4,"hi":3.4},{"p":5,"s":"NtW","x":74,"y":-1.4,"lo":-4.7,"hi":3.9},{"p":5,"s":"NtW","x":78,"y":-1.3,"lo":-5.2,"hi":4.7},{"p":5,"s":"NtW","x":82,"y":-1,"lo":-7.9,"hi":5.5},{"p":5,"s":"NtW","x":86,"y":-0.3,"lo":-7.2,"hi":6.2},{"p":5,"s":"NtW","x":90,"y":-0.4,"lo":-5.8,"hi":5},{"p":5,"s":"NtW","x":94,"y":0.7,"lo":-3.7,"hi":5},{"p":5,"s":"NtW","x":97,"y":0.4,"lo":-4.1,"hi":5},{"p":5,"s":"NtW","x":100,"y":-0.1,"lo":-5.7,"hi":5},
{"p":6,"s":"VgS","x":0,"y":-2.8,"lo":-8.5,"hi":3.9},{"p":6,"s":"VgS","x":1.5,"y":-3.2,"lo":-9,"hi":2.3},{"p":6,"s":"VgS","x":3,"y":-4.1,"lo":-9.8,"hi":2},{"p":6,"s":"VgS","x":6,"y":-5.2,"lo":-10.4,"hi":0.3},{"p":6,"s":"VgS","x":8,"y":-4.4,"lo":-9.6,"hi":0.7},{"p":6,"s":"VgS","x":9,"y":-4.3,"lo":-9.3,"hi":0.8},{"p":6,"s":"VgS","x":11,"y":-4.7,"lo":-8.8,"hi":-0.2},{"p":6,"s":"VgS","x":13,"y":-5,"lo":-8.5,"hi":-0.8},{"p":6,"s":"VgS","x":16,"y":-4.3,"lo":-7.5,"hi":-1.4},{"p":6,"s":"VgS","x":18,"y":-4.5,"lo":-7.2,"hi":-1.8},{"p":6,"s":"VgS","x":20,"y":-4.2,"lo":-7.2,"hi":-1.6},{"p":6,"s":"VgS","x":23,"y":-4.5,"lo":-7.3,"hi":-1.3},{"p":6,"s":"VgS","x":25,"y":-4.3,"lo":-7.5,"hi":-1.5},{"p":6,"s":"VgS","x":27,"y":-4.6,"lo":-7.7,"hi":-1.6},{"p":6,"s":"VgS","x":30,"y":-4.1,"lo":-7.6,"hi":-0.9},{"p":6,"s":"VgS","x":33,"y":-4.2,"lo":-7.5,"hi":-0.6},{"p":6,"s":"VgS","x":35,"y":-4.3,"lo":-7.4,"hi":-0.8},{"p":6,"s":"VgS","x":37,"y":-4.7,"lo":-7.2,"hi":-1.1},{"p":6,"s":"VgS","x":40,"y":-3.5,"lo":-7.2,"hi":0.5},{"p":6,"s":"VgS","x":43,"y":-3.1,"lo":-7,"hi":1},{"p":6,"s":"VgS","x":45,"y":-2.3,"lo":-6.9,"hi":2.2},{"p":6,"s":"VgS","x":48,"y":-2.6,"lo":-7,"hi":1.8},{"p":6,"s":"VgS","x":51,"y":-2.3,"lo":-7.7,"hi":3.2},{"p":6,"s":"VgS","x":52,"y":-2.6,"lo":-7.9,"hi":3.5},{"p":6,"s":"VgS","x":54,"y":-1.7,"lo":-8.3,"hi":4.7},{"p":6,"s":"VgS","x":57,"y":-1.6,"lo":-8.3,"hi":5.7},{"p":6,"s":"VgS","x":58,"y":-1.2,"lo":-8.3,"hi":5.6},{"p":6,"s":"VgS","x":60,"y":-1.8,"lo":-8.7,"hi":5.2},{"p":6,"s":"VgS","x":63,"y":-1.4,"lo":-8.9,"hi":6.1},
{"p":6,"s":"VgW","x":63,"y":-1.4,"lo":-8.9,"hi":6.1},{"p":6,"s":"VgW","x":66,"y":-0.6,"lo":-8,"hi":5.3},{"p":6,"s":"VgW","x":68,"y":-0.1,"lo":-6.5,"hi":5.3},{"p":6,"s":"VgW","x":71,"y":1.8,"lo":-4.5,"hi":6.5},{"p":6,"s":"VgW","x":74,"y":3.3,"lo":-1,"hi":7.5},{"p":6,"s":"VgW","x":76,"y":3.4,"lo":-0.3,"hi":7},{"p":6,"s":"VgW","x":78,"y":4,"lo":0.1,"hi":8.2},{"p":6,"s":"VgW","x":80,"y":4.1,"lo":0.1,"hi":8.4},{"p":6,"s":"VgW","x":82,"y":3.6,"lo":-0.8,"hi":8.5},{"p":6,"s":"VgW","x":84,"y":3.6,"lo":-1.3,"hi":8.7},{"p":6,"s":"VgW","x":87,"y":3,"lo":-2.3,"hi":7.4},{"p":6,"s":"VgW","x":90,"y":1.8,"lo":-3,"hi":6.2},{"p":6,"s":"VgW","x":92,"y":1.4,"lo":-3.4,"hi":5.7},{"p":6,"s":"VgW","x":94,"y":1.9,"lo":-2.3,"hi":5.9},{"p":6,"s":"VgW","x":96,"y":1,"lo":-3.2,"hi":5.4},{"p":6,"s":"VgW","x":100,"y":1.1,"lo":-3.6,"hi":5.6},
{"p":6,"s":"VrS","x":0,"y":-7.2,"lo":-12.7,"hi":-1.7},{"p":6,"s":"VrS","x":3,"y":-7.9,"lo":-13,"hi":-2.8},{"p":6,"s":"VrS","x":6,"y":-9,"lo":-14,"hi":-4.1},{"p":6,"s":"VrS","x":8,"y":-9.3,"lo":-14.1,"hi":-4.9},{"p":6,"s":"VrS","x":11,"y":-8.8,"lo":-13.4,"hi":-5.4},{"p":6,"s":"VrS","x":14,"y":-9.3,"lo":-13.7,"hi":-5.7},{"p":6,"s":"VrS","x":17,"y":-9.8,"lo":-13.8,"hi":-5.9},{"p":6,"s":"VrS","x":20,"y":-9.9,"lo":-14,"hi":-6},{"p":6,"s":"VrS","x":22,"y":-10.3,"lo":-14.1,"hi":-6.6},{"p":6,"s":"VrS","x":25,"y":-10.3,"lo":-14.3,"hi":-6.8},{"p":6,"s":"VrS","x":28,"y":-10.6,"lo":-14.3,"hi":-7.5},{"p":6,"s":"VrS","x":32,"y":-10.7,"lo":-14.7,"hi":-7.6},{"p":6,"s":"VrS","x":35,"y":-10.7,"lo":-14.5,"hi":-7.7},{"p":6,"s":"VrS","x":37,"y":-11,"lo":-14.9,"hi":-7.2},{"p":6,"s":"VrS","x":40,"y":-10.5,"lo":-14.5,"hi":-6.3},{"p":6,"s":"VrS","x":44,"y":-9.9,"lo":-14.3,"hi":-5.2},{"p":6,"s":"VrS","x":47,"y":-9.3,"lo":-13.7,"hi":-3.9},{"p":6,"s":"VrS","x":51,"y":-8.7,"lo":-13.6,"hi":-2.8},{"p":6,"s":"VrS","x":54,"y":-8,"lo":-13.2,"hi":-2.6},{"p":6,"s":"VrS","x":58,"y":-7.8,"lo":-13.4,"hi":-1.6},{"p":6,"s":"VrS","x":61,"y":-7.4,"lo":-13.3,"hi":-1.5},{"p":6,"s":"VrS","x":64,"y":-7.3,"lo":-13.2,"hi":-1.4},
{"p":6,"s":"VrW","x":64,"y":-7.3,"lo":-13.2,"hi":-1.4},{"p":6,"s":"VrW","x":67,"y":-6.7,"lo":-12.8,"hi":-0.8},{"p":6,"s":"VrW","x":71,"y":-5.8,"lo":-12.4,"hi":0.5},{"p":6,"s":"VrW","x":74,"y":-5.3,"lo":-12.3,"hi":1.4},{"p":6,"s":"VrW","x":78,"y":-4.9,"lo":-12,"hi":2.1},{"p":6,"s":"VrW","x":81,"y":-4.9,"lo":-12.1,"hi":2.2},{"p":6,"s":"VrW","x":85,"y":-4.1,"lo":-10.7,"hi":2.3},{"p":6,"s":"VrW","x":88,"y":-3.9,"lo":-10.2,"hi":2.4},{"p":6,"s":"VrW","x":91,"y":-3.3,"lo":-9.2,"hi":2.6},{"p":6,"s":"VrW","x":94,"y":-3.5,"lo":-9.3,"hi":2.5},{"p":6,"s":"VrW","x":97,"y":-3.7,"lo":-9.6,"hi":2.1},{"p":6,"s":"VrW","x":100,"y":-5,"lo":-10.7,"hi":0.8},
{"p":6,"s":"NtS","x":0,"y":-3,"lo":-9.6,"hi":2.2},{"p":6,"s":"NtS","x":3,"y":-3.9,"lo":-10.5,"hi":2.4},{"p":6,"s":"NtS","x":6,"y":-4.7,"lo":-11.5,"hi":2.1},{"p":6,"s":"NtS","x":9,"y":-5.2,"lo":-11.6,"hi":1},{"p":6,"s":"NtS","x":12,"y":-5.3,"lo":-11.7,"hi":0.6},{"p":6,"s":"NtS","x":15,"y":-6.1,"lo":-12,"hi":-0.2},{"p":6,"s":"NtS","x":18,"y":-6.6,"lo":-12.4,"hi":-0.8},{"p":6,"s":"NtS","x":21,"y":-6.5,"lo":-12.2,"hi":-1},{"p":6,"s":"NtS","x":24,"y":-6.8,"lo":-12.1,"hi":-1.3},{"p":6,"s":"NtS","x":27,"y":-7.5,"lo":-13.2,"hi":-1.8},{"p":6,"s":"NtS","x":31,"y":-7.9,"lo":-13.4,"hi":-2.7},{"p":6,"s":"NtS","x":35,"y":-8.3,"lo":-13.7,"hi":-2.8},{"p":6,"s":"NtS","x":38,"y":-8.1,"lo":-13.7,"hi":-2.7},{"p":6,"s":"NtS","x":41,"y":-8,"lo":-12.9,"hi":-3},{"p":6,"s":"NtS","x":43,"y":-7.6,"lo":-12.8,"hi":-2.6},{"p":6,"s":"NtS","x":46,"y":-6.8,"lo":-12.1,"hi":-2},{"p":6,"s":"NtS","x":50,"y":-6.4,"lo":-11.1,"hi":-1.7},{"p":6,"s":"NtS","x":53,"y":-5.7,"lo":-10.3,"hi":-0.8},{"p":6,"s":"NtS","x":57,"y":-5.2,"lo":-9.6,"hi":-0.5},{"p":6,"s":"NtS","x":60,"y":-4.7,"lo":-9.4,"hi":0.4},{"p":6,"s":"NtS","x":64,"y":-3.8,"lo":-9.3,"hi":1.8},
{"p":6,"s":"NtW","x":64,"y":-3.8,"lo":-9.3,"hi":1.8},{"p":6,"s":"NtW","x":66,"y":-3.5,"lo":-9.3,"hi":2.2},{"p":6,"s":"NtW","x":69,"y":-3.7,"lo":-9,"hi":1.6},{"p":6,"s":"NtW","x":73,"y":-2.8,"lo":-8,"hi":3.2},{"p":6,"s":"NtW","x":76,"y":-2.6,"lo":-7.5,"hi":4},{"p":6,"s":"NtW","x":80,"y":-1.7,"lo":-7.4,"hi":4.8},{"p":6,"s":"NtW","x":83,"y":-1.4,"lo":-7.8,"hi":5.2},{"p":6,"s":"NtW","x":85,"y":-1.3,"lo":-7.3,"hi":5.2},{"p":6,"s":"NtW","x":88,"y":-0.9,"lo":-6.9,"hi":5.2},{"p":6,"s":"NtW","x":92,"y":-0.7,"lo":-6.8,"hi":5.3},{"p":6,"s":"NtW","x":95,"y":-0.9,"lo":-7,"hi":5.2},{"p":6,"s":"NtW","x":97,"y":-1.2,"lo":-7.3,"hi":5},{"p":6,"s":"NtW","x":100,"y":-2.1,"lo":-8,"hi":3.9},
{"p":7,"s":"VgS","x":0,"y":-3.1,"lo":-8.2,"hi":1.9},{"p":7,"s":"VgS","x":3,"y":-3.3,"lo":-8.3,"hi":1.9},{"p":7,"s":"VgS","x":8,"y":-3.3,"lo":-8.6,"hi":2},{"p":7,"s":"VgS","x":13,"y":-3.6,"lo":-8.8,"hi":1.5},{"p":7,"s":"VgS","x":15,"y":-3.3,"lo":-8.5,"hi":1.6},{"p":7,"s":"VgS","x":18,"y":-3.3,"lo":-8.3,"hi":1.8},{"p":7,"s":"VgS","x":22,"y":-3,"lo":-8.4,"hi":2.3},{"p":7,"s":"VgS","x":26,"y":-3.3,"lo":-8.6,"hi":1.8},{"p":7,"s":"VgS","x":30,"y":-2.9,"lo":-8.1,"hi":2.3},{"p":7,"s":"VgS","x":35,"y":-3.2,"lo":-8.2,"hi":2.1},{"p":7,"s":"VgS","x":38,"y":-3,"lo":-8,"hi":2},{"p":7,"s":"VgS","x":41,"y":-3.2,"lo":-7.9,"hi":1.6},{"p":7,"s":"VgS","x":45,"y":-2.7,"lo":-7.9,"hi":2.4},{"p":7,"s":"VgS","x":48,"y":-3.1,"lo":-8.1,"hi":1.9},{"p":7,"s":"VgS","x":54,"y":-2.8,"lo":-8.1,"hi":2.6},{"p":7,"s":"VgS","x":58,"y":-3.3,"lo":-8.9,"hi":2.4},{"p":7,"s":"VgS","x":60,"y":-3.6,"lo":-9.3,"hi":2.3},{"p":7,"s":"VgS","x":62,"y":-3.3,"lo":-9.1,"hi":2.4},{"p":7,"s":"VgS","x":64,"y":-3.4,"lo":-9.2,"hi":2.3},{"p":7,"s":"VgS","x":67,"y":-3.7,"lo":-9,"hi":1.8},
{"p":7,"s":"VgW","x":67,"y":-3.7,"lo":-9,"hi":1.8},{"p":7,"s":"VgW","x":70,"y":-3.6,"lo":-9.3,"hi":1.6},{"p":7,"s":"VgW","x":73,"y":-2.7,"lo":-8.4,"hi":2.9},{"p":7,"s":"VgW","x":75,"y":-2.3,"lo":-8.2,"hi":3.3},{"p":7,"s":"VgW","x":78,"y":-1.5,"lo":-7.3,"hi":4.2},{"p":7,"s":"VgW","x":82,"y":-1,"lo":-6.6,"hi":4.8},{"p":7,"s":"VgW","x":85,"y":-1.6,"lo":-6.6,"hi":3.5},{"p":7,"s":"VgW","x":88,"y":-1.6,"lo":-6.7,"hi":3.3},{"p":7,"s":"VgW","x":91,"y":-2.9,"lo":-7.8,"hi":2.3},{"p":7,"s":"VgW","x":95,"y":-3.1,"lo":-8.4,"hi":2},{"p":7,"s":"VgW","x":98,"y":-3.5,"lo":-9,"hi":2.1},{"p":7,"s":"VgW","x":100,"y":-3.6,"lo":-9.2,"hi":2.2},
{"p":7,"s":"VrS","x":0,"y":0.5,"lo":-3.5,"hi":4.6},{"p":7,"s":"VrS","x":3,"y":0.8,"lo":-3.3,"hi":4.8},{"p":7,"s":"VrS","x":7,"y":1.2,"lo":-3,"hi":5.3},{"p":7,"s":"VrS","x":10,"y":1.1,"lo":-3.1,"hi":5.1},{"p":7,"s":"VrS","x":12,"y":0.8,"lo":-3.3,"hi":5},{"p":7,"s":"VrS","x":14,"y":1,"lo":-3.1,"hi":5},{"p":7,"s":"VrS","x":18,"y":0.9,"lo":-3.3,"hi":4.9},{"p":7,"s":"VrS","x":24,"y":0.4,"lo":-3.7,"hi":4.5},{"p":7,"s":"VrS","x":28,"y":0.7,"lo":-3.4,"hi":4.6},{"p":7,"s":"VrS","x":34,"y":1,"lo":-3.3,"hi":4.9},{"p":7,"s":"VrS","x":40,"y":1,"lo":-3.3,"hi":4.9},{"p":7,"s":"VrS","x":44,"y":0.9,"lo":-3,"hi":4.9},{"p":7,"s":"VrS","x":48,"y":1,"lo":-3.3,"hi":5},{"p":7,"s":"VrS","x":53,"y":0.9,"lo":-3.3,"hi":5},{"p":7,"s":"VrS","x":56,"y":0.9,"lo":-3.3,"hi":5},{"p":7,"s":"VrS","x":61,"y":0.6,"lo":-3.5,"hi":4.8},{"p":7,"s":"VrS","x":65,"y":0.6,"lo":-3.5,"hi":4.8},
{"p":7,"s":"VrW","x":65,"y":0.6,"lo":-3.5,"hi":4.8},{"p":7,"s":"VrW","x":70,"y":0.8,"lo":-3.3,"hi":4.9},{"p":7,"s":"VrW","x":73,"y":1.3,"lo":-3.1,"hi":5.4},{"p":7,"s":"VrW","x":78,"y":1,"lo":-3.5,"hi":5.5},{"p":7,"s":"VrW","x":85,"y":1,"lo":-3.7,"hi":5.6},{"p":7,"s":"VrW","x":88,"y":1.1,"lo":-3.5,"hi":5.5},{"p":7,"s":"VrW","x":93,"y":0.8,"lo":-3.3,"hi":4.8},{"p":7,"s":"VrW","x":96,"y":1,"lo":-3.1,"hi":5},{"p":7,"s":"VrW","x":100,"y":0.9,"lo":-3.3,"hi":5.1},
{"p":7,"s":"NtS","x":0,"y":-0.4,"lo":-3.3,"hi":2.2},{"p":7,"s":"NtS","x":2.5,"y":-0.6,"lo":-3.5,"hi":2.2},{"p":7,"s":"NtS","x":6,"y":-0.3,"lo":-3.1,"hi":2.4},{"p":7,"s":"NtS","x":12,"y":-0.4,"lo":-3.3,"hi":2.5},{"p":7,"s":"NtS","x":16,"y":-0.3,"lo":-3.1,"hi":2.4},{"p":7,"s":"NtS","x":20,"y":-0.6,"lo":-3.3,"hi":2.2},{"p":7,"s":"NtS","x":24,"y":-0.9,"lo":-3.7,"hi":1.7},{"p":7,"s":"NtS","x":28,"y":-0.7,"lo":-3.3,"hi":1.7},{"p":7,"s":"NtS","x":34,"y":-0.8,"lo":-3.2,"hi":1.6},{"p":7,"s":"NtS","x":40,"y":-0.9,"lo":-3.2,"hi":1.3},{"p":7,"s":"NtS","x":45,"y":-0.9,"lo":-2.9,"hi":1.5},{"p":7,"s":"NtS","x":48,"y":-0.8,"lo":-3.3,"hi":1.7},{"p":7,"s":"NtS","x":51,"y":-0.9,"lo":-3.4,"hi":1.8},{"p":7,"s":"NtS","x":54,"y":-0.6,"lo":-3.5,"hi":2},{"p":7,"s":"NtS","x":58,"y":-0.7,"lo":-4,"hi":2.2},{"p":7,"s":"NtS","x":62,"y":-1.2,"lo":-4.5,"hi":2.2},{"p":7,"s":"NtS","x":65,"y":-1.2,"lo":-4.7,"hi":2.3},
{"p":7,"s":"NtW","x":65,"y":-1.2,"lo":-4.7,"hi":2.3},{"p":7,"s":"NtW","x":68,"y":-1.7,"lo":-4.9,"hi":1.6},{"p":7,"s":"NtW","x":71,"y":-0.9,"lo":-4.6,"hi":2.2},{"p":7,"s":"NtW","x":75,"y":-0.6,"lo":-4,"hi":2.9},{"p":7,"s":"NtW","x":80,"y":-0.1,"lo":-3.3,"hi":3.1},{"p":7,"s":"NtW","x":87,"y":0,"lo":-3.7,"hi":3.2},{"p":7,"s":"NtW","x":90,"y":-0.4,"lo":-3,"hi":2.4},{"p":7,"s":"NtW","x":94,"y":-0.5,"lo":-3,"hi":1.9},{"p":7,"s":"NtW","x":100,"y":-0.3,"lo":-3.3,"hi":2.3},
{"p":8,"s":"VgS","x":0,"y":-2.3,"lo":-7.7,"hi":2.9},{"p":8,"s":"VgS","x":3,"y":-2.5,"lo":-7.8,"hi":2.8},{"p":8,"s":"VgS","x":6,"y":-2.7,"lo":-8.1,"hi":2.7},{"p":8,"s":"VgS","x":9,"y":-2.2,"lo":-7.9,"hi":3.5},{"p":8,"s":"VgS","x":12,"y":-2.4,"lo":-8.4,"hi":3.2},{"p":8,"s":"VgS","x":15,"y":-3.1,"lo":-9,"hi":2.8},{"p":8,"s":"VgS","x":18,"y":-3.1,"lo":-8.8,"hi":2.9},{"p":8,"s":"VgS","x":20,"y":-2.9,"lo":-8.7,"hi":2.7},{"p":8,"s":"VgS","x":23,"y":-3.1,"lo":-8.5,"hi":2.4},{"p":8,"s":"VgS","x":25,"y":-2.9,"lo":-8.2,"hi":2.3},{"p":8,"s":"VgS","x":29,"y":-3.6,"lo":-9.2,"hi":1.7},{"p":8,"s":"VgS","x":32,"y":-3.8,"lo":-9.8,"hi":2.2},{"p":8,"s":"VgS","x":35,"y":-3.4,"lo":-9.7,"hi":2.9},{"p":8,"s":"VgS","x":40,"y":-3.5,"lo":-9.6,"hi":2.8},{"p":8,"s":"VgS","x":46,"y":-3.4,"lo":-9.2,"hi":2.6},{"p":8,"s":"VgS","x":49,"y":-3,"lo":-8.9,"hi":3.2},{"p":8,"s":"VgS","x":51,"y":-3,"lo":-9.3,"hi":3.5},{"p":8,"s":"VgS","x":53,"y":-2.5,"lo":-8.6,"hi":3.6},{"p":8,"s":"VgS","x":56,"y":-2.8,"lo":-8.9,"hi":3.5},{"p":8,"s":"VgS","x":59,"y":-2.8,"lo":-9.2,"hi":3.6},{"p":8,"s":"VgS","x":61,"y":-2.6,"lo":-8.8,"hi":3.5},{"p":8,"s":"VgS","x":63,"y":-2.6,"lo":-8.7,"hi":3.6},{"p":8,"s":"VgS","x":66,"y":-2.4,"lo":-8.6,"hi":3.9},
{"p":8,"s":"VgW","x":66,"y":-2.4,"lo":-8.6,"hi":3.9},{"p":8,"s":"VgW","x":68,"y":-2.8,"lo":-9,"hi":3.4},{"p":8,"s":"VgW","x":72,"y":-3,"lo":-8.9,"hi":2.9},{"p":8,"s":"VgW","x":75,"y":-2.5,"lo":-8.5,"hi":3.7},{"p":8,"s":"VgW","x":77,"y":-1.7,"lo":-7.7,"hi":5},{"p":8,"s":"VgW","x":79,"y":-1.1,"lo":-7.5,"hi":5.3},{"p":8,"s":"VgW","x":82,"y":-1,"lo":-7.3,"hi":5},{"p":8,"s":"VgW","x":84,"y":-1.4,"lo":-7.5,"hi":4.8},{"p":8,"s":"VgW","x":87,"y":-1.2,"lo":-7.4,"hi":4.9},{"p":8,"s":"VgW","x":90,"y":-1.5,"lo":-7.6,"hi":4.4},{"p":8,"s":"VgW","x":93,"y":-2,"lo":-7.8,"hi":3.6},{"p":8,"s":"VgW","x":95,"y":-2.1,"lo":-7.8,"hi":3.5},{"p":8,"s":"VgW","x":98,"y":-2.4,"lo":-8.1,"hi":3.4},{"p":8,"s":"VgW","x":100,"y":-2.5,"lo":-8.3,"hi":3.4},
{"p":8,"s":"VrS","x":0,"y":1.2,"lo":-2.5,"hi":4.9},{"p":8,"s":"VrS","x":5,"y":1.3,"lo":-2.5,"hi":4.8},{"p":8,"s":"VrS","x":10,"y":1.1,"lo":-2.7,"hi":4.6},{"p":8,"s":"VrS","x":15,"y":1.4,"lo":-2.5,"hi":5.3},{"p":8,"s":"VrS","x":18,"y":1.1,"lo":-2.6,"hi":4.8},{"p":8,"s":"VrS","x":22,"y":1.1,"lo":-2.9,"hi":4.7},{"p":8,"s":"VrS","x":25,"y":0.7,"lo":-3.1,"hi":4.3},{"p":8,"s":"VrS","x":28,"y":0.5,"lo":-3.5,"hi":4.1},{"p":8,"s":"VrS","x":32,"y":0.4,"lo":-3.6,"hi":4.3},{"p":8,"s":"VrS","x":34,"y":0.6,"lo":-3.5,"hi":4.8},{"p":8,"s":"VrS","x":40,"y":0.5,"lo":-3.6,"hi":4.8},{"p":8,"s":"VrS","x":42,"y":0.5,"lo":-3.7,"hi":4.9},{"p":8,"s":"VrS","x":44,"y":0.7,"lo":-3.6,"hi":4.8},{"p":8,"s":"VrS","x":46,"y":0.6,"lo":-3.5,"hi":4.7},{"p":8,"s":"VrS","x":49,"y":0.8,"lo":-3.1,"hi":4.8},{"p":8,"s":"VrS","x":51,"y":0.8,"lo":-2.9,"hi":4.9},{"p":8,"s":"VrS","x":54,"y":1.2,"lo":-2.8,"hi":5.1},{"p":8,"s":"VrS","x":58,"y":0.7,"lo":-3.3,"hi":4.6},{"p":8,"s":"VrS","x":61,"y":1.1,"lo":-2.8,"hi":4.8},{"p":8,"s":"VrS","x":63,"y":1.3,"lo":-2.5,"hi":4.6},
{"p":8,"s":"VrW","x":63,"y":1.3,"lo":-2.5,"hi":4.6},{"p":8,"s":"VrW","x":70,"y":1.3,"lo":-2,"hi":4.8},{"p":8,"s":"VrW","x":72,"y":1.4,"lo":-2.3,"hi":4.9},{"p":8,"s":"VrW","x":76,"y":1.8,"lo":-1.8,"hi":5.5},{"p":8,"s":"VrW","x":81,"y":1.4,"lo":-2.3,"hi":5.3},{"p":8,"s":"VrW","x":84,"y":1.5,"lo":-2.4,"hi":5.3},{"p":8,"s":"VrW","x":86,"y":1.4,"lo":-2.4,"hi":5},{"p":8,"s":"VrW","x":92,"y":1.3,"lo":-2.3,"hi":4.9},{"p":8,"s":"VrW","x":97,"y":1.1,"lo":-2.6,"hi":4.6},{"p":8,"s":"VrW","x":100,"y":1.2,"lo":-2.5,"hi":4.6},
{"p":8,"s":"NtS","x":0,"y":-0.2,"lo":-2.5,"hi":2.2},{"p":8,"s":"NtS","x":5,"y":-0.1,"lo":-2.5,"hi":2.3},{"p":8,"s":"NtS","x":9,"y":-0.3,"lo":-2.9,"hi":2.2},{"p":8,"s":"NtS","x":12,"y":-0.6,"lo":-3.1,"hi":2.1},{"p":8,"s":"NtS","x":16,"y":-0.4,"lo":-2.6,"hi":2.1},{"p":8,"s":"NtS","x":19,"y":-0.5,"lo":-2.7,"hi":1.8},{"p":8,"s":"NtS","x":22,"y":-0.8,"lo":-3.2,"hi":1.9},{"p":8,"s":"NtS","x":26,"y":-1,"lo":-3.6,"hi":1.7},{"p":8,"s":"NtS","x":29,"y":-1.3,"lo":-4.2,"hi":1.6},{"p":8,"s":"NtS","x":31,"y":-1.2,"lo":-4.3,"hi":1.9},{"p":8,"s":"NtS","x":36,"y":-1.4,"lo":-4.4,"hi":1.6},{"p":8,"s":"NtS","x":40,"y":-1.3,"lo":-4.6,"hi":2.1},{"p":8,"s":"NtS","x":43,"y":-1.3,"lo":-4.5,"hi":2.1},{"p":8,"s":"NtS","x":48,"y":-1.1,"lo":-4.4,"hi":2.3},{"p":8,"s":"NtS","x":50,"y":-0.8,"lo":-4,"hi":2.6},{"p":8,"s":"NtS","x":55,"y":-0.6,"lo":-3.8,"hi":2.8},{"p":8,"s":"NtS","x":60,"y":-0.8,"lo":-3.9,"hi":2.5},{"p":8,"s":"NtS","x":63,"y":-0.8,"lo":-3.8,"hi":2.3},
{"p":8,"s":"NtW","x":63,"y":-0.8,"lo":-3.8,"hi":2.3},{"p":8,"s":"NtW","x":67,"y":-1.2,"lo":-4.1,"hi":1.8},{"p":8,"s":"NtW","x":70,"y":-0.9,"lo":-4.1,"hi":1.9},{"p":8,"s":"NtW","x":73,"y":-0.5,"lo":-4.1,"hi":2.3},{"p":8,"s":"NtW","x":75,"y":-0.5,"lo":-4.1,"hi":3.1},{"p":8,"s":"NtW","x":78,"y":0.1,"lo":-3.3,"hi":3.2},{"p":8,"s":"NtW","x":82,"y":0.3,"lo":-2.8,"hi":3.4},{"p":8,"s":"NtW","x":86,"y":0.1,"lo":-2.4,"hi":2.6},{"p":8,"s":"NtW","x":90,"y":0,"lo":-2.3,"hi":2.3},{"p":8,"s":"NtW","x":95,"y":-0.3,"lo":-2.8,"hi":2.1},{"p":8,"s":"NtW","x":98,"y":-0.5,"lo":-2.9,"hi":1.9},{"p":8,"s":"NtW","x":100,"y":-0.5,"lo":-2.8,"hi":1.9},
{"p":9,"s":"VgS","x":0,"y":-2.5,"lo":-9.1,"hi":4.1},{"p":9,"s":"VgS","x":2,"y":-2.6,"lo":-9.4,"hi":4.1},{"p":9,"s":"VgS","x":4,"y":-2.2,"lo":-8.7,"hi":4.1},{"p":9,"s":"VgS","x":6,"y":-2.3,"lo":-8.8,"hi":4.2},{"p":9,"s":"VgS","x":8,"y":-2.1,"lo":-8.3,"hi":3.9},{"p":9,"s":"VgS","x":11,"y":-2.3,"lo":-8.3,"hi":3.7},{"p":9,"s":"VgS","x":14,"y":-2.5,"lo":-8.2,"hi":3.4},{"p":9,"s":"VgS","x":20,"y":-2.5,"lo":-8.4,"hi":3.5},{"p":9,"s":"VgS","x":23,"y":-2.5,"lo":-8.6,"hi":3.7},{"p":9,"s":"VgS","x":26,"y":-2.9,"lo":-9.2,"hi":3.5},{"p":9,"s":"VgS","x":30,"y":-2.6,"lo":-9.1,"hi":3.8},{"p":9,"s":"VgS","x":33,"y":-3,"lo":-9.3,"hi":3.4},{"p":9,"s":"VgS","x":36,"y":-2.5,"lo":-9,"hi":4},{"p":9,"s":"VgS","x":39,"y":-2.5,"lo":-9,"hi":3.9},{"p":9,"s":"VgS","x":42,"y":-3.1,"lo":-10,"hi":3.9},{"p":9,"s":"VgS","x":46,"y":-2.9,"lo":-9.8,"hi":3.9},{"p":9,"s":"VgS","x":48,"y":-3.3,"lo":-9.8,"hi":3.2},{"p":9,"s":"VgS","x":51,"y":-2.7,"lo":-8.2,"hi":2.6},{"p":9,"s":"VgS","x":54,"y":-3.1,"lo":-8,"hi":2.3},{"p":9,"s":"VgS","x":57,"y":-3.2,"lo":-7.8,"hi":1.5},{"p":9,"s":"VgS","x":60,"y":-3.6,"lo":-8.1,"hi":1},{"p":9,"s":"VgS","x":63,"y":-2.6,"lo":-6.8,"hi":1},
{"p":9,"s":"VgW","x":63,"y":-2.6,"lo":-6.8,"hi":1},{"p":9,"s":"VgW","x":66,"y":-2.1,"lo":-6.7,"hi":3},{"p":9,"s":"VgW","x":69,"y":-1.2,"lo":-6.7,"hi":4.2},{"p":9,"s":"VgW","x":71,"y":-1.1,"lo":-6.3,"hi":4.8},{"p":9,"s":"VgW","x":75,"y":-0.7,"lo":-6.4,"hi":5.7},{"p":9,"s":"VgW","x":78,"y":-1.2,"lo":-7.5,"hi":5.8},{"p":9,"s":"VgW","x":80,"y":-1.2,"lo":-8.3,"hi":5.8},{"p":9,"s":"VgW","x":82,"y":-1.1,"lo":-8,"hi":5.5},{"p":9,"s":"VgW","x":85,"y":-1.5,"lo":-7.6,"hi":4.9},{"p":9,"s":"VgW","x":88,"y":-1.8,"lo":-7.6,"hi":3.9},{"p":9,"s":"VgW","x":90,"y":-1.4,"lo":-6.9,"hi":4.1},{"p":9,"s":"VgW","x":92,"y":-1.5,"lo":-7.2,"hi":4},{"p":9,"s":"VgW","x":95,"y":-2.3,"lo":-8.3,"hi":3.2},{"p":9,"s":"VgW","x":97,"y":-3,"lo":-8.7,"hi":2.4},{"p":9,"s":"VgW","x":100,"y":-3.3,"lo":-9.2,"hi":2.6},
{"p":9,"s":"VrS","x":0,"y":0.1,"lo":-4.2,"hi":4.4},{"p":9,"s":"VrS","x":4,"y":0.2,"lo":-4,"hi":4.2},{"p":9,"s":"VrS","x":8,"y":0.3,"lo":-4,"hi":4.6},{"p":9,"s":"VrS","x":12,"y":0.2,"lo":-4.2,"hi":4.3},{"p":9,"s":"VrS","x":16,"y":0,"lo":-4.2,"hi":4.3},{"p":9,"s":"VrS","x":19,"y":0.1,"lo":-4.3,"hi":4.1},{"p":9,"s":"VrS","x":22,"y":-0.1,"lo":-4,"hi":4.2},{"p":9,"s":"VrS","x":26,"y":0.2,"lo":-4.2,"hi":4.1},{"p":9,"s":"VrS","x":30,"y":0,"lo":-4.2,"hi":4},{"p":9,"s":"VrS","x":33,"y":0,"lo":-4.4,"hi":4.2},{"p":9,"s":"VrS","x":37,"y":-0.1,"lo":-4.4,"hi":4.2},{"p":9,"s":"VrS","x":42,"y":-0.2,"lo":-4.5,"hi":4.1},{"p":9,"s":"VrS","x":47,"y":0,"lo":-4.1,"hi":4},{"p":9,"s":"VrS","x":50,"y":0.3,"lo":-3.7,"hi":4.2},{"p":9,"s":"VrS","x":52,"y":0.3,"lo":-3.2,"hi":4},{"p":9,"s":"VrS","x":55,"y":0.8,"lo":-2.5,"hi":3.9},{"p":9,"s":"VrS","x":58,"y":1.1,"lo":-2.2,"hi":3.9},{"p":9,"s":"VrS","x":61,"y":1.3,"lo":-2,"hi":3.9},{"p":9,"s":"VrS","x":64,"y":1.5,"lo":-2.1,"hi":4.2},
{"p":9,"s":"VrW","x":64,"y":1.5,"lo":-2.1,"hi":4.2},{"p":9,"s":"VrW","x":67,"y":1.4,"lo":-2.5,"hi":4.5},{"p":9,"s":"VrW","x":72,"y":1.3,"lo":-2.8,"hi":4.7},{"p":9,"s":"VrW","x":77,"y":1.2,"lo":-3.3,"hi":5.1},{"p":9,"s":"VrW","x":82,"y":1.1,"lo":-2.9,"hi":5.2},{"p":9,"s":"VrW","x":86,"y":1.3,"lo":-3,"hi":5},{"p":9,"s":"VrW","x":90,"y":1.2,"lo":-3.1,"hi":4.8},{"p":9,"s":"VrW","x":94,"y":0.8,"lo":-3.5,"hi":4.5},{"p":9,"s":"VrW","x":97,"y":0.8,"lo":-3.6,"hi":4.5},{"p":9,"s":"VrW","x":100,"y":1,"lo":-3.5,"hi":4.6},
{"p":9,"s":"NtS","x":0,"y":-0.5,"lo":-3.7,"hi":2.8},{"p":9,"s":"NtS","x":3,"y":-0.8,"lo":-3.9,"hi":2.3},{"p":9,"s":"NtS","x":6,"y":-1,"lo":-4.2,"hi":2.1},{"p":9,"s":"NtS","x":8,"y":-1,"lo":-4.2,"hi":1.9},{"p":9,"s":"NtS","x":10,"y":-1.6,"lo":-4.8,"hi":1.7},{"p":9,"s":"NtS","x":13,"y":-1.6,"lo":-4.7,"hi":1.5},{"p":9,"s":"NtS","x":16,"y":-1.8,"lo":-4.7,"hi":1.2},{"p":9,"s":"NtS","x":19,"y":-1.3,"lo":-4.2,"hi":1.3},{"p":9,"s":"NtS","x":22,"y":-1.2,"lo":-4.1,"hi":1.5},{"p":9,"s":"NtS","x":25,"y":-1.5,"lo":-4.2,"hi":1.4},{"p":9,"s":"NtS","x":28,"y":-1.3,"lo":-3.9,"hi":1.5},{"p":9,"s":"NtS","x":32,"y":-1.1,"lo":-4.4,"hi":2},{"p":9,"s":"NtS","x":38,"y":-1.2,"lo":-4.6,"hi":2.2},{"p":9,"s":"NtS","x":43,"y":-1.1,"lo":-4.8,"hi":2.4},{"p":9,"s":"NtS","x":46,"y":-1,"lo":-4.4,"hi":2.4},{"p":9,"s":"NtS","x":49,"y":-1.2,"lo":-4.5,"hi":2.1},{"p":9,"s":"NtS","x":52,"y":-0.5,"lo":-4,"hi":2.5},{"p":9,"s":"NtS","x":54,"y":-0.5,"lo":-3.4,"hi":2.6},{"p":9,"s":"NtS","x":57,"y":-0.6,"lo":-2.9,"hi":2.2},{"p":9,"s":"NtS","x":60,"y":-0.4,"lo":-2.3,"hi":2.2},{"p":9,"s":"NtS","x":64,"y":0,"lo":-1.2,"hi":2.5},
{"p":9,"s":"NtW","x":64,"y":0,"lo":-1.2,"hi":2.5},{"p":9,"s":"NtW","x":67,"y":0,"lo":-1.7,"hi":2.5},{"p":9,"s":"NtW","x":70,"y":-0.3,"lo":-2.4,"hi":2.3},{"p":9,"s":"NtW","x":73,"y":-0.3,"lo":-2.8,"hi":2.3},{"p":9,"s":"NtW","x":77,"y":0,"lo":-3.3,"hi":3},{"p":9,"s":"NtW","x":82,"y":0.4,"lo":-3,"hi":3.8},{"p":9,"s":"NtW","x":86,"y":0.2,"lo":-2.6,"hi":3.3},{"p":9,"s":"NtW","x":90,"y":-0.3,"lo":-3.3,"hi":2.7},{"p":9,"s":"NtW","x":94,"y":-0.4,"lo":-3.5,"hi":2.7},{"p":9,"s":"NtW","x":97,"y":-0.6,"lo":-3.6,"hi":2.4},{"p":9,"s":"NtW","x":100,"y":-0.4,"lo":-2.6,"hi":2.6}
],"figure":[
{"p":1,"part":"body","i":0,"x":18.4,"y":129.3},{"p":1,"part":"body","i":1,"x":18.4,"y":116.2},
{"p":1,"part":"armL","i":0,"x":18.4,"y":125.4},{"p":1,"part":"armL","i":1,"x":16.9,"y":122.2},{"p":1,"part":"armL","i":2,"x":16.5,"y":117.5},
{"p":1,"part":"armR","i":0,"x":18.4,"y":125.4},{"p":1,"part":"armR","i":1,"x":19.15,"y":121},{"p":1,"part":"armR","i":2,"x":21.6,"y":119.1},
{"p":1,"part":"legL","i":0,"x":18.4,"y":116.2},{"p":1,"part":"legL","i":1,"x":16.9,"y":109.5},{"p":1,"part":"legL","i":2,"x":14,"y":104.8},{"p":1,"part":"legL","i":3,"x":13.6,"y":104.1},{"p":1,"part":"legL","i":4,"x":14.2,"y":103.2},
{"p":1,"part":"legR","i":0,"x":18.4,"y":116.2},{"p":1,"part":"legR","i":1,"x":19.5,"y":109.5},{"p":1,"part":"legR","i":2,"x":18.7,"y":102.2},{"p":1,"part":"legR","i":3,"x":19.6,"y":102},
{"p":1,"part":"floor","i":0,"x":8.9,"y":101.7},{"p":1,"part":"floor","i":1,"x":27.1,"y":101.7},
{"p":2,"part":"body","i":0,"x":25.03,"y":132.7},{"p":2,"part":"body","i":1,"x":25.03,"y":119.7},
{"p":2,"part":"armL","i":0,"x":25.03,"y":128.8},{"p":2,"part":"armL","i":1,"x":23.7,"y":125.8},{"p":2,"part":"armL","i":2,"x":23.1,"y":121.1},
{"p":2,"part":"armR","i":0,"x":25.03,"y":128.8},{"p":2,"part":"armR","i":1,"x":25.7,"y":125.3},{"p":2,"part":"armR","i":2,"x":28.5,"y":122.7},
{"p":2,"part":"legL","i":0,"x":25.03,"y":119.7},{"p":2,"part":"legL","i":1,"x":23.3,"y":113.3},{"p":2,"part":"legL","i":2,"x":19.4,"y":109.1},{"p":2,"part":"legL","i":3,"x":19.8,"y":108},
{"p":2,"part":"legR","i":0,"x":25.03,"y":119.7},{"p":2,"part":"legR","i":1,"x":26.6,"y":113.7},{"p":2,"part":"legR","i":2,"x":25.4,"y":106},{"p":2,"part":"legR","i":3,"x":26.1,"y":105.8},
{"p":3,"part":"body","i":0,"x":21.65,"y":132.7},{"p":3,"part":"body","i":1,"x":21.65,"y":119.5},
{"p":3,"part":"armL","i":0,"x":21.65,"y":128.8},{"p":3,"part":"armL","i":1,"x":20.4,"y":125.8},{"p":3,"part":"armL","i":2,"x":19.9,"y":121.1},
{"p":3,"part":"armR","i":0,"x":21.65,"y":128.8},{"p":3,"part":"armR","i":1,"x":22.4,"y":125.1},{"p":3,"part":"armR","i":2,"x":25.1,"y":122.7},
{"p":3,"part":"legL","i":0,"x":21.65,"y":119.5},{"p":3,"part":"legL","i":1,"x":20.4,"y":113.1},{"p":3,"part":"legL","i":2,"x":16.1,"y":109.2},{"p":3,"part":"legL","i":3,"x":16.7,"y":108.4},
{"p":3,"part":"legR","i":0,"x":21.65,"y":119.5},{"p":3,"part":"legR","i":1,"x":22.2,"y":113.1},{"p":3,"part":"legR","i":2,"x":21.8,"y":105.4},{"p":3,"part":"legR","i":3,"x":22.6,"y":105.2}
],"heads":[{"p":1,"x":18.38,"y":132},{"p":2,"x":25.03,"y":135.9},{"p":3,"x":21.65,"y":135.9}],
"terrain":[{"p":2,"x":8.8,"top":109.6,"base":101.3},{"p":2,"x":44.2,"top":101.3,"base":101.3},{"p":3,"x":8.8,"top":112,"base":101.4},{"p":3,"x":15.1,"top":108.4,"base":101.4},{"p":3,"x":20.05,"top":105,"base":101.4},{"p":3,"x":24.9,"top":105,"base":101.4}],
"legendRows":[{"group":"valgus","phase":"stance","s":"VgS","label":"valgus (stance)"},{"group":"neutral","phase":"stance","s":"NtS","label":"neutral (stance)"},{"group":"varus","phase":"stance","s":"VrS","label":"varus (stance)"},{"group":"valgus","phase":"swing","s":"VgW","label":"valgus (swing)"},{"group":"neutral","phase":"swing","s":"NtW","label":"neutral (swing)"},{"group":"varus","phase":"swing","s":"VrW","label":"varus (swing)"}]},
"concat":[
{"width":472.7,"height":355,"transform":[{"filter":"datum.p==1"}],"data":{"name":"curves"},"encoding":{"x":{"field":"x","type":"quantitative","scale":{"domain":[0,100],"nice":false,"zero":false},"axis":{"values":[0,20,40,60,80,100],"title":null}},"y":{"field":"y","type":"quantitative","scale":{"domain":[-7.6,105.2],"nice":false,"zero":false},"axis":{"values":[0,20,40,60,80,100],"labelExpr":"''+datum.value","title":"ext (-) / flex (+) [°]","titleX":-104,"titleBaseline":"alphabetic"}}},"layer":[
{"mark":{"type":"area","interpolate":"monotone","fillOpacity":0.27},"encoding":{"y":{"field":"lo","type":"quantitative","scale":{"domain":[-7.6,105.2],"nice":false,"zero":false},"axis":{"values":[0,20,40,60,80,100],"labelExpr":"''+datum.value","title":"ext (-) / flex (+) [°]","titleX":-104,"titleBaseline":"alphabetic"}},"y2":{"field":"hi"},"color":{"field":"s","type":"nominal","scale":{"domain":["VgS","VgW","VrS","VrW","NtS","NtW"],"range":["#c80020","#ff3a10","#0000ff","#4dd5ff","#0e7a0e","#3cff00"]},"legend":null}}},
{"mark":{"type":"line","interpolate":"monotone","strokeWidth":6.5,"strokeCap":"butt"},"encoding":{"color":{"field":"s","type":"nominal","legend":null}}},
{"data":{"name":"figure"},"transform":[{"filter":"datum.p==1"}],"mark":{"type":"line","color":"#000","strokeWidth":2},"encoding":{"detail":{"field":"part"},"order":{"field":"i","type":"quantitative"}}},
{"data":{"name":"heads"},"transform":[{"filter":"datum.p==1"}],"mark":{"type":"point","filled":false,"shape":"circle","size":361,"stroke":"#000","strokeWidth":2,"opacity":1},"encoding":{}}]},
{"width":472.7,"height":355,"transform":[{"filter":"datum.p==2"}],"data":{"name":"curves"},"encoding":{"x":{"field":"x","type":"quantitative","scale":{"domain":[0,100],"nice":false,"zero":false},"axis":{"values":[0,20,40,60,80,100],"title":null}},"y":{"field":"y","type":"quantitative","scale":{"domain":[-7.6,105.2],"nice":false,"zero":false},"axis":{"values":[0,20,40,60,80,100],"labelExpr":"''+datum.value","title":null}}},"layer":[
{"mark":{"type":"area","interpolate":"monotone","fillOpacity":0.27},"encoding":{"y":{"field":"lo","type":"quantitative","scale":{"domain":[-7.6,105.2],"nice":false,"zero":false},"axis":{"values":[0,20,40,60,80,100],"labelExpr":"''+datum.value","title":null}},"y2":{"field":"hi"},"color":{"field":"s","type":"nominal","scale":{"domain":["VgS","VgW","VrS","VrW","NtS","NtW"],"range":["#c80020","#ff3a10","#0000ff","#4dd5ff","#0e7a0e","#3cff00"]},"legend":null}}},
{"mark":{"type":"line","interpolate":"monotone","strokeWidth":6.5,"strokeCap":"butt"},"encoding":{"color":{"field":"s","type":"nominal","legend":null}}},
{"data":{"name":"terrain"},"transform":[{"filter":"datum.p==2"}],"mark":{"type":"area","color":"#000","opacity":1},"encoding":{"y":{"field":"top","type":"quantitative","scale":{"domain":[-7.6,105.2],"nice":false,"zero":false},"axis":{"values":[0,20,40,60,80,100],"labelExpr":"''+datum.value","title":null}},"y2":{"field":"base"}}},
{"data":{"name":"figure"},"transform":[{"filter":"datum.p==2"}],"mark":{"type":"line","color":"#000","strokeWidth":2},"encoding":{"detail":{"field":"part"},"order":{"field":"i","type":"quantitative"}}},
{"data":{"name":"heads"},"transform":[{"filter":"datum.p==2"}],"mark":{"type":"point","filled":false,"shape":"circle","size":361,"stroke":"#000","strokeWidth":2,"opacity":1},"encoding":{}}]},
{"width":472.7,"height":355,"transform":[{"filter":"datum.p==3"}],"data":{"name":"curves"},"encoding":{"x":{"field":"x","type":"quantitative","scale":{"domain":[0,100],"nice":false,"zero":false},"axis":{"values":[0,20,40,60,80,100],"title":null}},"y":{"field":"y","type":"quantitative","scale":{"domain":[-7.6,105.2],"nice":false,"zero":false},"axis":{"values":[0,20,40,60,80,100],"labelExpr":"''+datum.value","title":null}}},"layer":[
{"mark":{"type":"area","interpolate":"monotone","fillOpacity":0.27},"encoding":{"y":{"field":"lo","type":"quantitative","scale":{"domain":[-7.6,105.2],"nice":false,"zero":false},"axis":{"values":[0,20,40,60,80,100],"labelExpr":"''+datum.value","title":null}},"y2":{"field":"hi"},"color":{"field":"s","type":"nominal","scale":{"domain":["VgS","VgW","VrS","VrW","NtS","NtW"],"range":["#c80020","#ff3a10","#0000ff","#4dd5ff","#0e7a0e","#3cff00"]},"legend":null}}},
{"mark":{"type":"line","interpolate":"monotone","strokeWidth":6.5,"strokeCap":"butt"},"encoding":{"color":{"field":"s","type":"nominal","legend":null}}},
{"data":{"name":"terrain"},"transform":[{"filter":"datum.p==3"}],"mark":{"type":"area","color":"#000","opacity":1,"interpolate":"step-after"},"encoding":{"y":{"field":"top","type":"quantitative","scale":{"domain":[-7.6,105.2],"nice":false,"zero":false},"axis":{"values":[0,20,40,60,80,100],"labelExpr":"''+datum.value","title":null}},"y2":{"field":"base"}}},
{"data":{"name":"figure"},"transform":[{"filter":"datum.p==3"}],"mark":{"type":"line","color":"#000","strokeWidth":2},"encoding":{"detail":{"field":"part"},"order":{"field":"i","type":"quantitative"}}},
{"data":{"name":"heads"},"transform":[{"filter":"datum.p==3"}],"mark":{"type":"point","filled":false,"shape":"circle","size":361,"stroke":"#000","strokeWidth":2,"opacity":1},"encoding":{}}]},
{"width":472.7,"height":355,"transform":[{"filter":"datum.p==4"}],"data":{"name":"curves"},"encoding":{"x":{"field":"x","type":"quantitative","scale":{"domain":[0,100],"nice":false,"zero":false},"axis":{"values":[0,20,40,60,80,100],"title":null}},"y":{"field":"y","type":"quantitative","scale":{"domain":[-17.5,10],"nice":false,"zero":false},"axis":{"values":[-15,-10,-5,0,5],"labelExpr":"''+datum.value","title":"tib int (-) / ext (+) rot [°]","titleX":-104,"titleBaseline":"alphabetic"}}},"layer":[
{"mark":{"type":"area","fillOpacity":0.27},"encoding":{"y":{"field":"lo","type":"quantitative","scale":{"domain":[-17.5,10],"nice":false,"zero":false},"axis":{"values":[-15,-10,-5,0,5],"labelExpr":"''+datum.value","title":"tib int (-) / ext (+) rot [°]","titleX":-104,"titleBaseline":"alphabetic"}},"y2":{"field":"hi"},"color":{"field":"s","type":"nominal","scale":{"domain":["VgS","VgW","VrS","VrW","NtS","NtW"],"range":["#c80020","#ff3a10","#0000ff","#4dd5ff","#0e7a0e","#3cff00"]},"legend":null}}},
{"mark":{"type":"line","strokeWidth":6.5,"strokeCap":"butt"},"encoding":{"color":{"field":"s","type":"nominal","legend":null}}}]},
{"width":472.7,"height":355,"transform":[{"filter":"datum.p==5"}],"data":{"name":"curves"},"encoding":{"x":{"field":"x","type":"quantitative","scale":{"domain":[0,100],"nice":false,"zero":false},"axis":{"values":[0,20,40,60,80,100],"title":null}},"y":{"field":"y","type":"quantitative","scale":{"domain":[-17.5,10],"nice":false,"zero":false},"axis":{"values":[-15,-10,-5,0,5],"labelExpr":"''+datum.value","title":null}}},"layer":[
{"mark":{"type":"area","fillOpacity":0.27},"encoding":{"y":{"field":"lo","type":"quantitative","scale":{"domain":[-17.5,10],"nice":false,"zero":false},"axis":{"values":[-15,-10,-5,0,5],"labelExpr":"''+datum.value","title":null}},"y2":{"field":"hi"},"color":{"field":"s","type":"nominal","scale":{"domain":["VgS","VgW","VrS","VrW","NtS","NtW"],"range":["#c80020","#ff3a10","#0000ff","#4dd5ff","#0e7a0e","#3cff00"]},"legend":null}}},
{"mark":{"type":"line","strokeWidth":6.5,"strokeCap":"butt"},"encoding":{"color":{"field":"s","type":"nominal","legend":null}}}]},
{"width":472.7,"height":355,"transform":[{"filter":"datum.p==6"}],"data":{"name":"curves"},"encoding":{"x":{"field":"x","type":"quantitative","scale":{"domain":[0,100],"nice":false,"zero":false},"axis":{"values":[0,20,40,60,80,100],"title":null}},"y":{"field":"y","type":"quantitative","scale":{"domain":[-17.5,10],"nice":false,"zero":false},"axis":{"values":[-15,-10,-5,0,5],"labelExpr":"''+datum.value","title":null}}},"layer":[
{"mark":{"type":"area","fillOpacity":0.27},"encoding":{"y":{"field":"lo","type":"quantitative","scale":{"domain":[-17.5,10],"nice":false,"zero":false},"axis":{"values":[-15,-10,-5,0,5],"labelExpr":"''+datum.value","title":null}},"y2":{"field":"hi"},"color":{"field":"s","type":"nominal","scale":{"domain":["VgS","VgW","VrS","VrW","NtS","NtW"],"range":["#c80020","#ff3a10","#0000ff","#4dd5ff","#0e7a0e","#3cff00"]},"legend":null}}},
{"mark":{"type":"line","strokeWidth":6.5,"strokeCap":"butt"},"encoding":{"color":{"field":"s","type":"nominal","legend":null}}}]},
{"width":472.7,"height":355,"transform":[{"filter":"datum.p==7"}],"data":{"name":"curves"},"encoding":{"x":{"field":"x","type":"quantitative","scale":{"domain":[0,100],"nice":false,"zero":false},"axis":{"values":[0,20,40,60,80,100],"title":"% gait cycle","titlePadding":0}},"y":{"field":"y","type":"quantitative","scale":{"domain":[-12.5,7.5],"nice":false,"zero":false},"axis":{"values":[-10,-5,0,5],"labelExpr":"''+datum.value","title":"abd (-) / add (+) [°]","titleX":-104,"titleBaseline":"alphabetic"}}},"resolve":{"scale":{"x":"independent","y":"independent"},"axis":{"x":"independent","y":"independent"}},"layer":[
{"layer":[
{"mark":{"type":"area","fillOpacity":0.27},"encoding":{"y":{"field":"lo","type":"quantitative","scale":{"domain":[-12.5,7.5],"nice":false,"zero":false},"axis":{"values":[-10,-5,0,5],"labelExpr":"''+datum.value","title":"abd (-) / add (+) [°]","titleX":-104,"titleBaseline":"alphabetic"}},"y2":{"field":"hi"},"color":{"field":"s","type":"nominal","scale":{"domain":["VgS","VgW","VrS","VrW","NtS","NtW"],"range":["#c80020","#ff3a10","#0000ff","#4dd5ff","#0e7a0e","#3cff00"]},"legend":null}}},
{"mark":{"type":"line","strokeWidth":6.5,"strokeCap":"butt"},"encoding":{"color":{"field":"s","type":"nominal","legend":null}}}]},
{"data":{"name":"legendRows"},"transform":[{"filter":"true"}],"encoding":{"x":{"field":"group","type":"nominal","sort":null,"scale":{"type":"point","padding":0,"domain":["valgus","neutral","varus"],"range":[326.7,1078]},"axis":null},"y":{"field":"phase","type":"nominal","sort":null,"scale":{"type":"point","padding":0,"domain":["stance","swing"],"range":[512.3,579.3]},"axis":null}},"layer":[
{"mark":{"type":"rect","width":59,"height":47,"fillOpacity":0.27},"encoding":{"color":{"field":"s","type":"nominal","legend":null}}},
{"mark":{"type":"rect","width":59,"height":6},"encoding":{"color":{"field":"s","type":"nominal","legend":null}}},
{"mark":{"type":"text","align":"left","baseline":"middle","dx":35,"fontSize":41.5,"font":"Liberation Sans","color":"#000"},"encoding":{"text":{"field":"label"}}}]}]},
{"width":472.7,"height":355,"transform":[{"filter":"datum.p==8"}],"data":{"name":"curves"},"encoding":{"x":{"field":"x","type":"quantitative","scale":{"domain":[0,100],"nice":false,"zero":false},"axis":{"values":[0,20,40,60,80,100],"title":"% gait cycle","titlePadding":0}},"y":{"field":"y","type":"quantitative","scale":{"domain":[-12.5,7.5],"nice":false,"zero":false},"axis":{"values":[-10,-5,0,5],"labelExpr":"''+datum.value","title":null}}},"layer":[
{"mark":{"type":"area","fillOpacity":0.27},"encoding":{"y":{"field":"lo","type":"quantitative","scale":{"domain":[-12.5,7.5],"nice":false,"zero":false},"axis":{"values":[-10,-5,0,5],"labelExpr":"''+datum.value","title":null}},"y2":{"field":"hi"},"color":{"field":"s","type":"nominal","scale":{"domain":["VgS","VgW","VrS","VrW","NtS","NtW"],"range":["#c80020","#ff3a10","#0000ff","#4dd5ff","#0e7a0e","#3cff00"]},"legend":null}}},
{"mark":{"type":"line","strokeWidth":6.5,"strokeCap":"butt"},"encoding":{"color":{"field":"s","type":"nominal","legend":null}}}]},
{"width":472.7,"height":355,"transform":[{"filter":"datum.p==9"}],"data":{"name":"curves"},"encoding":{"x":{"field":"x","type":"quantitative","scale":{"domain":[0,100],"nice":false,"zero":false},"axis":{"values":[0,20,40,60,80,100],"title":"% gait cycle","titlePadding":0}},"y":{"field":"y","type":"quantitative","scale":{"domain":[-12.5,7.5],"nice":false,"zero":false},"axis":{"values":[-10,-5,0,5],"labelExpr":"''+datum.value","title":null}}},"layer":[
{"mark":{"type":"area","fillOpacity":0.27},"encoding":{"y":{"field":"lo","type":"quantitative","scale":{"domain":[-12.5,7.5],"nice":false,"zero":false},"axis":{"values":[-10,-5,0,5],"labelExpr":"''+datum.value","title":null}},"y2":{"field":"hi"},"color":{"field":"s","type":"nominal","scale":{"domain":["VgS","VgW","VrS","VrW","NtS","NtW"],"range":["#c80020","#ff3a10","#0000ff","#4dd5ff","#0e7a0e","#3cff00"]},"legend":null}}},
{"mark":{"type":"line","strokeWidth":6.5,"strokeCap":"butt"},"encoding":{"color":{"field":"s","type":"nominal","legend":null}}}]}
]}
